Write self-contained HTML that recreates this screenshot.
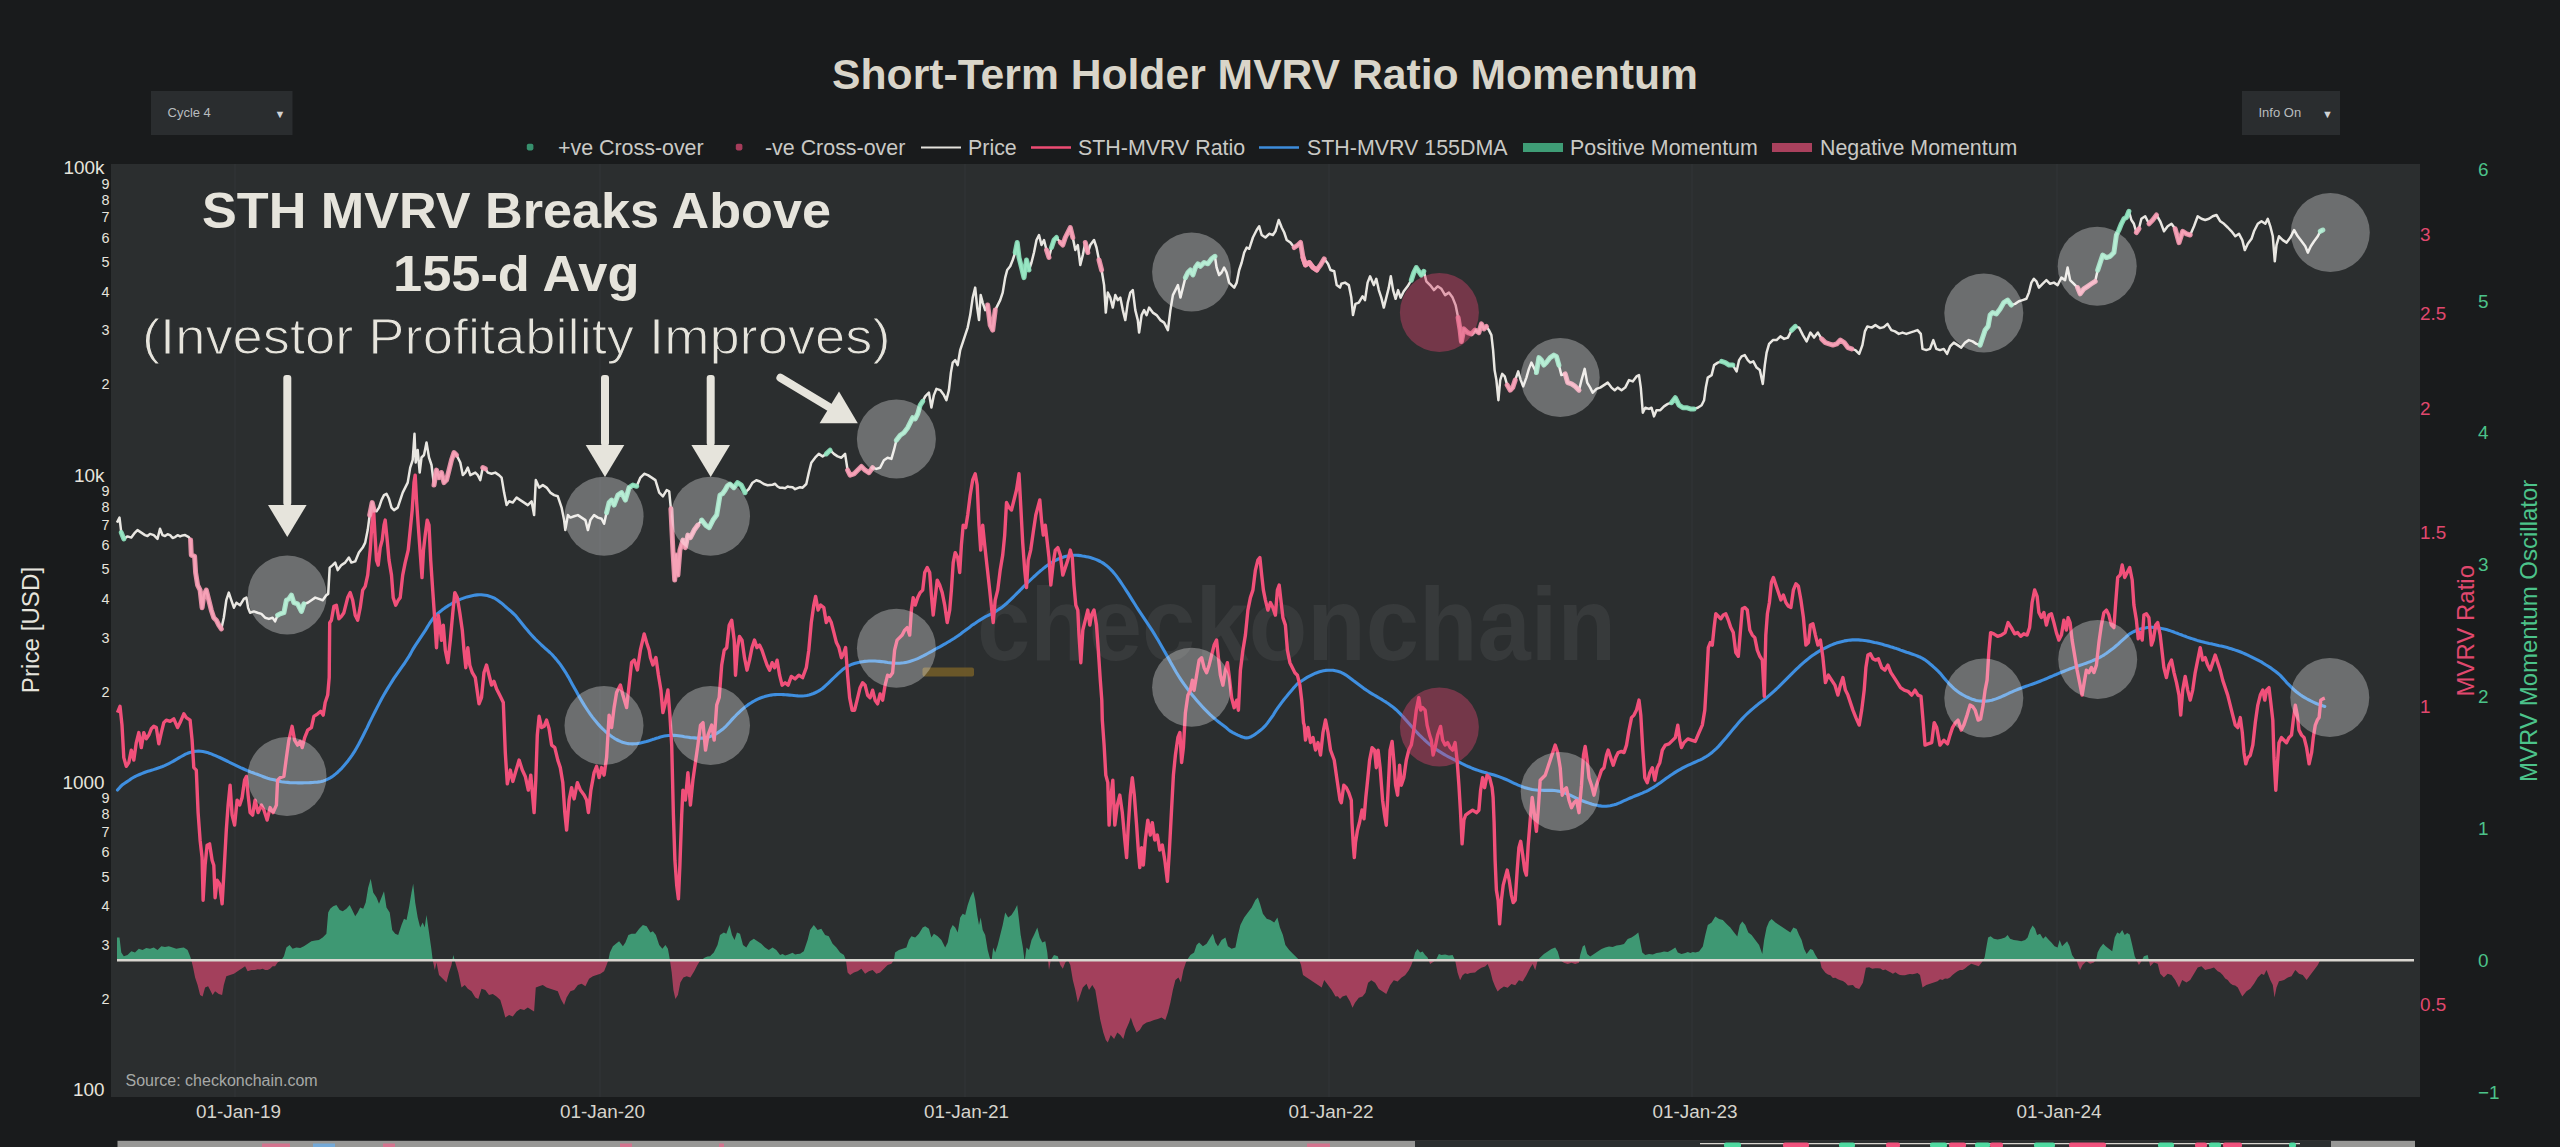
<!DOCTYPE html>
<html><head><meta charset="utf-8"><title>Short-Term Holder MVRV Ratio Momentum</title>
<style>
html,body{margin:0;padding:0;background:#191b1c;}
body{width:2560px;height:1147px;overflow:hidden;font-family:"Liberation Sans",sans-serif;}
svg{display:block}
text{font-family:"Liberation Sans",sans-serif}
.ann{font-family:"DejaVu Sans","Liberation Sans",sans-serif}
</style></head><body>
<svg width="2560" height="1147" viewBox="0 0 2560 1147">
<rect x="0" y="0" width="2560" height="1147" fill="#191b1c"/>
<rect x="111" y="164" width="2309" height="933" fill="#2b2e2f"/>

<line x1="235" y1="164" x2="235" y2="1097" stroke="#303335" stroke-width="1.6"/>
<line x1="600" y1="164" x2="600" y2="1097" stroke="#303335" stroke-width="1.6"/>
<line x1="965" y1="164" x2="965" y2="1097" stroke="#303335" stroke-width="1.6"/>
<line x1="1329" y1="164" x2="1329" y2="1097" stroke="#303335" stroke-width="1.6"/>
<line x1="1692" y1="164" x2="1692" y2="1097" stroke="#303335" stroke-width="1.6"/>
<line x1="2057" y1="164" x2="2057" y2="1097" stroke="#303335" stroke-width="1.6"/>
<text x="1265" y="89" text-anchor="middle" font-size="42.67" font-weight="bold" fill="#d9d5c9">Short-Term Holder MVRV Ratio Momentum</text>
<rect x="151" y="91" width="141.5" height="44" fill="#2a2d2f"/>
<text x="167.5" y="117" font-size="13" fill="#b8bcbf">Cycle 4</text>
<text x="280" y="117.5" font-size="11" text-anchor="middle" fill="#d0d3d5">▼</text>
<rect x="2242" y="91" width="98" height="44" fill="#2a2d2f"/>
<text x="2258.5" y="117" font-size="13" fill="#b8bcbf">Info On</text>
<text x="2327.5" y="117.5" font-size="11" text-anchor="middle" fill="#d0d3d5">▼</text>
<g font-size="21.4" fill="#c9c9c5">
<rect x="526.8" y="143.8" width="6.6" height="6.6" rx="1.8" fill="#37906d"/>
<text x="558" y="154.5">+ve Cross-over</text>
<rect x="735.8" y="143.8" width="6.6" height="6.6" rx="1.8" fill="#a53c5a"/>
<text x="765" y="154.5">-ve Cross-over</text>
<line x1="921" y1="147.5" x2="961" y2="147.5" stroke="#e4e2dc" stroke-width="2"/>
<text x="968" y="154.5">Price</text>
<line x1="1031" y1="147.5" x2="1071" y2="147.5" stroke="#ee4c73" stroke-width="2.5"/>
<text x="1078" y="154.5">STH-MVRV Ratio</text>
<line x1="1259" y1="147.5" x2="1299" y2="147.5" stroke="#3d8ddb" stroke-width="2.5"/>
<text x="1307" y="154.5">STH-MVRV 155DMA</text>
<rect x="1523" y="143" width="40" height="9" fill="#3f9d76"/>
<text x="1570" y="154.5">Positive Momentum</text>
<rect x="1772" y="143" width="40" height="9" fill="#a9415d"/>
<text x="1820" y="154.5">Negative Momentum</text>
</g>
<g fill="#e6e4dc" text-anchor="end">
<text x="104.5" y="174.4" font-size="18.9">100k</text>
<text x="104.5" y="481.6" font-size="18.9">10k</text>
<text x="104.5" y="788.8" font-size="18.9">1000</text>
<text x="104.5" y="1096.0" font-size="18.9">100</text>
<text x="109.5" y="1003.8" font-size="14.4">2</text>
<text x="109.5" y="949.7" font-size="14.4">3</text>
<text x="109.5" y="911.3" font-size="14.4">4</text>
<text x="109.5" y="881.6" font-size="14.4">5</text>
<text x="109.5" y="857.3" font-size="14.4">6</text>
<text x="109.5" y="836.7" font-size="14.4">7</text>
<text x="109.5" y="818.9" font-size="14.4">8</text>
<text x="109.5" y="803.2" font-size="14.4">9</text>
<text x="109.5" y="696.6" font-size="14.4">2</text>
<text x="109.5" y="642.5" font-size="14.4">3</text>
<text x="109.5" y="604.1" font-size="14.4">4</text>
<text x="109.5" y="574.4" font-size="14.4">5</text>
<text x="109.5" y="550.1" font-size="14.4">6</text>
<text x="109.5" y="529.5" font-size="14.4">7</text>
<text x="109.5" y="511.7" font-size="14.4">8</text>
<text x="109.5" y="496.0" font-size="14.4">9</text>
<text x="109.5" y="389.4" font-size="14.4">2</text>
<text x="109.5" y="335.3" font-size="14.4">3</text>
<text x="109.5" y="296.9" font-size="14.4">4</text>
<text x="109.5" y="267.2" font-size="14.4">5</text>
<text x="109.5" y="242.9" font-size="14.4">6</text>
<text x="109.5" y="222.3" font-size="14.4">7</text>
<text x="109.5" y="204.5" font-size="14.4">8</text>
<text x="109.5" y="188.8" font-size="14.4">9</text>
</g>
<text transform="translate(39,630) rotate(-90)" text-anchor="middle" font-size="24.2" fill="#e6e4dc">Price [USD]</text>
<g fill="#e0486e" font-size="18.9">
<text x="2420" y="241.3">3</text>
<text x="2420" y="319.5">2.5</text>
<text x="2420" y="415.2">2</text>
<text x="2420" y="538.6">1.5</text>
<text x="2420" y="712.5">1</text>
<text x="2420" y="1011.3">0.5</text>
</g>
<text transform="translate(2474,630.8) rotate(-90)" text-anchor="middle" font-size="24" fill="#e0486e">MVRV Ratio</text>
<g fill="#4cc38a" font-size="18.9">
<text x="2478" y="175.6">6</text>
<text x="2478" y="307.5">5</text>
<text x="2478" y="439.4">4</text>
<text x="2478" y="571.3">3</text>
<text x="2478" y="703.2">2</text>
<text x="2478" y="835.1">1</text>
<text x="2478" y="967.0">0</text>
<text x="2478" y="1098.9">−1</text>
</g>
<text transform="translate(2536.5,630.8) rotate(-90)" text-anchor="middle" font-size="24" fill="#4cc38a">MVRV Momentum Oscillator</text>
<g fill="#d6d4cd" font-size="18.9" text-anchor="middle">
<text x="238.5" y="1118">01-Jan-19</text>
<text x="602.5" y="1118">01-Jan-20</text>
<text x="966.5" y="1118">01-Jan-21</text>
<text x="1331" y="1118">01-Jan-22</text>
<text x="1695" y="1118">01-Jan-23</text>
<text x="2059" y="1118">01-Jan-24</text>
</g>
<rect x="922.5" y="667.5" width="51.5" height="9" rx="2" fill="#7a6128" opacity="0.8"/>
<text x="977" y="660" font-size="104" font-weight="bold" fill="#373a3b" textLength="639" lengthAdjust="spacingAndGlyphs" >checkonchain</text>
<text x="125.5" y="1086" font-size="16" fill="#a7a9a7">Source: checkonchain.com</text>
<clipPath id="cpos"><rect x="111" y="164" width="2309" height="796.2"/></clipPath>
<clipPath id="cneg"><rect x="111" y="960.2" width="2309" height="136.79999999999995"/></clipPath>
<path d="M117.0,937.6L119.5,937.6L121.3,952.6L123.8,956.3L127.5,955.1L131.3,951.3L135.0,952.6L138.8,948.8L142.5,950.1L146.3,948.1L150.0,948.8L153.8,947.6L157.5,950.1L161.3,946.3L165.0,947.1L168.8,946.3L172.6,947.6L176.3,948.8L180.1,948.1L183.8,947.6L187.6,950.1L190.1,956.3L191.3,960.1L193.1,967.6L195.1,977.6L197.6,985.1L200.1,995.1L202.6,996.4L205.1,987.6L208.1,986.3L210.1,990.1L212.6,995.1L215.1,991.3L218.8,993.9L222.1,995.1L223.8,985.1L226.3,976.3L230.1,975.1L233.9,973.8L237.6,971.3L241.4,968.8L245.1,966.3L247.6,971.3L251.4,970.1L255.1,970.1L257.6,969.3L260.1,969.6L262.6,968.7L265.1,970.1L267.6,969.9L270.1,968.8L272.6,966.2L275.1,966.3L277.6,962.6L281.4,960.1L283.9,956.3L286.4,947.6L289.6,945.1L292.6,948.8L296.4,947.6L300.2,948.1L303.9,946.3L307.7,943.8L311.4,941.3L315.2,940.6L318.9,940.1L322.7,937.6L326.4,933.8L328.2,912.5L330.2,908.8L333.2,906.3L336.4,905.0L339.7,910.0L342.7,911.3L346.4,908.8L349.7,905.0L352.2,910.0L355.2,916.3L357.7,912.5L360.2,907.5L363.2,908.8L365.7,902.5L368.2,887.5L370.7,878.8L373.2,892.5L376.5,897.5L379.0,903.8L381.5,897.5L384.0,891.3L386.5,907.5L389.7,912.5L392.2,930.1L395.2,933.8L398.2,935.1L401.5,925.0L404.0,918.8L406.5,920.0L409.0,907.5L411.5,892.5L413.2,883.8L415.2,902.5L417.7,917.5L420.2,927.6L422.7,922.5L424.7,927.6L426.5,915.0L429.0,932.6L431.5,950.1L432.7,960.1L434.8,970.1L436.5,962.6L439.0,975.1L442.8,978.8L446.5,982.6L449.0,972.6L451.5,965.1L453.3,955.1L455.3,962.6L458.3,972.6L461.5,987.6L464.8,985.1L467.8,988.8L471.5,991.3L475.3,997.6L478.3,998.9L481.5,988.8L485.3,990.1L489.0,995.1L492.8,993.9L496.5,996.4L500.3,1000.1L503.3,1010.1L505.3,1017.6L509.1,1015.1L512.8,1016.4L516.6,1011.4L520.3,1008.9L524.1,1010.1L527.8,1007.6L531.6,1010.1L534.1,1011.4L535.8,987.6L539.1,986.3L542.8,985.1L546.6,987.6L550.3,988.8L554.1,990.1L557.8,991.3L560.8,998.9L564.1,1005.1L566.6,997.6L570.4,991.3L574.1,990.1L577.9,985.1L581.6,983.8L585.4,986.3L589.1,978.8L592.9,976.3L596.6,975.1L600.4,973.8L604.1,971.3L606.6,965.1L608.4,960.1L609.9,952.6L612.9,946.3L615.9,943.8L619.1,941.3L622.9,946.3L625.4,942.6L628.4,935.1L631.6,933.8L635.4,933.8L639.2,928.8L642.9,925.0L646.7,926.3L650.4,932.6L652.9,931.3L655.9,935.1L659.2,945.1L662.4,948.8L665.4,945.1L667.9,948.8L669.9,960.1L671.7,972.6L673.4,990.1L675.4,998.9L677.9,995.1L680.4,982.6L683.4,977.6L686.7,976.3L690.4,977.6L694.2,971.3L697.4,965.1L700.5,960.1L702.8,959.0L705.0,957.6L707.5,956.5L710.0,956.3L713.8,952.6L717.5,945.1L720.0,935.1L723.8,932.6L726.3,933.8L729.5,925.0L732.0,935.1L734.5,940.1L737.0,932.6L740.0,933.8L743.0,945.1L746.3,947.6L750.0,941.3L753.8,938.8L757.5,941.3L761.3,943.8L765.0,947.6L768.8,950.1L772.6,947.6L776.3,950.1L780.1,955.1L782.6,953.9L785.1,955.6L787.6,954.7L790.1,953.8L792.6,952.7L795.1,954.6L797.6,954.0L800.1,953.8L803.8,951.3L807.6,940.1L810.1,930.1L813.8,925.0L817.6,930.1L821.3,928.8L825.1,935.1L828.8,936.3L832.6,943.8L836.4,947.6L840.1,952.6L843.9,955.1L845.9,960.1L847.6,972.6L850.1,975.1L853.9,972.6L857.6,971.3L861.4,968.8L865.1,973.8L868.9,971.3L872.6,970.1L876.4,973.8L880.1,972.6L883.9,968.8L887.6,965.1L891.4,963.8L893.9,960.1L895.1,952.6L898.9,950.1L902.7,948.8L906.4,947.6L908.9,940.1L911.4,936.3L915.2,937.6L918.9,933.8L922.7,927.6L925.2,926.3L928.9,928.8L931.4,937.6L933.9,933.8L937.7,936.3L941.4,940.1L945.2,947.6L947.7,942.6L950.2,930.1L952.7,925.0L955.2,927.6L957.7,932.6L960.2,917.5L962.7,913.8L965.2,915.0L967.7,905.0L970.2,897.5L973.2,891.3L975.2,900.0L977.2,915.0L979.0,925.0L980.7,917.5L982.7,930.1L985.2,935.1L987.7,950.1L989.7,957.6L991.5,961.3L993.2,947.6L995.2,952.6L997.7,945.1L1000.2,935.1L1002.7,925.0L1005.2,912.5L1008.2,917.5L1011.5,915.0L1014.7,910.0L1017.2,905.0L1019.0,920.0L1020.7,935.1L1022.7,946.3L1024.7,961.3L1026.5,947.6L1029.0,950.1L1031.5,940.1L1034.0,935.1L1037.3,927.6L1039.8,937.6L1042.3,942.6L1045.3,941.3L1047.3,952.6L1049.0,970.1L1050.8,960.1L1054.0,955.1L1057.8,956.3L1060.3,965.1L1062.8,968.8L1065.3,962.6L1067.8,960.1L1070.3,965.1L1072.8,980.1L1075.3,990.1L1077.8,1002.6L1080.3,995.1L1082.8,987.6L1086.5,983.8L1089.0,990.1L1092.3,985.1L1095.3,990.1L1097.8,1005.1L1100.3,1020.1L1103.3,1032.6L1105.8,1040.1L1107.8,1042.6L1110.8,1035.1L1114.1,1038.9L1117.3,1032.6L1120.3,1035.1L1123.3,1038.9L1125.8,1030.1L1129.1,1022.6L1130.8,1017.6L1133.3,1025.1L1136.6,1032.6L1139.8,1030.1L1142.8,1025.1L1146.6,1022.6L1150.3,1021.4L1154.1,1020.1L1157.8,1018.9L1161.6,1017.6L1165.3,1020.1L1167.9,1012.6L1170.4,1002.6L1172.9,990.1L1175.4,980.1L1178.4,977.6L1180.9,982.6L1183.4,970.1L1185.9,962.6L1187.9,958.8L1190.4,955.1L1194.1,952.6L1196.6,945.1L1199.1,942.6L1202.9,946.3L1206.6,943.8L1210.4,937.6L1212.9,933.8L1215.4,942.6L1217.9,946.3L1221.6,940.1L1225.4,937.6L1227.9,946.3L1231.6,948.8L1235.4,947.6L1237.9,935.1L1240.4,925.0L1244.2,917.5L1247.9,912.5L1251.7,907.5L1255.4,900.0L1257.9,897.5L1260.4,905.0L1262.9,913.8L1266.7,918.8L1270.4,920.0L1274.2,922.5L1277.4,917.5L1279.9,927.6L1282.9,935.1L1285.4,945.1L1289.2,950.1L1292.9,953.8L1296.7,957.6L1299.2,960.1L1301.0,965.1L1303.0,975.1L1306.7,977.6L1310.5,980.1L1314.2,982.6L1318.0,985.1L1321.7,987.6L1324.2,980.1L1328.0,985.1L1331.7,990.1L1335.5,996.4L1337.8,996.3L1340.0,998.9L1342.5,996.4L1346.3,995.2L1350.0,1001.4L1352.5,1007.7L1355.0,1002.7L1358.8,997.7L1362.5,996.4L1365.5,992.7L1368.1,982.7L1371.3,980.2L1375.1,982.7L1378.8,988.9L1382.6,991.4L1386.3,993.9L1390.1,985.2L1393.8,980.2L1397.6,981.4L1401.3,977.7L1405.1,975.2L1408.8,970.2L1411.3,965.2L1413.1,960.2L1415.1,952.6L1417.6,948.9L1420.1,952.6L1422.6,951.4L1425.1,955.1L1427.6,957.6L1430.1,963.9L1433.9,961.4L1436.4,958.9L1438.9,953.9L1441.4,955.1L1445.1,954.6L1448.9,955.6L1452.6,955.1L1455.1,960.2L1457.6,972.7L1460.1,980.2L1462.6,975.2L1465.1,973.2L1467.6,973.9L1470.1,973.1L1472.6,972.7L1475.1,972.5L1477.6,970.2L1481.4,967.7L1485.1,966.4L1487.6,963.9L1490.1,970.2L1492.6,980.2L1495.1,986.4L1497.6,991.4L1500.2,988.9L1503.9,986.4L1507.7,987.7L1511.4,983.9L1515.2,985.2L1518.9,980.2L1522.7,981.4L1526.4,975.2L1530.2,967.7L1532.7,963.9L1535.2,970.2L1537.7,960.2L1540.2,957.6L1543.9,953.9L1547.7,951.4L1551.4,948.9L1555.2,947.6L1557.7,951.4L1560.2,960.2L1563.9,962.7L1567.7,963.9L1571.5,962.7L1575.2,963.9L1579.0,962.7L1580.2,955.1L1582.7,946.4L1584.7,945.1L1587.2,953.9L1590.2,956.4L1594.0,953.9L1597.7,951.4L1601.5,948.9L1605.2,947.6L1609.0,946.4L1612.7,947.1L1616.5,945.6L1620.2,945.1L1624.0,943.9L1627.7,938.9L1631.5,937.6L1635.3,935.1L1638.3,932.6L1640.3,942.6L1642.3,952.6L1645.3,955.1L1649.0,953.9L1652.8,954.6L1656.5,953.1L1660.3,952.6L1664.0,951.4L1667.8,952.1L1671.5,950.1L1675.3,947.6L1677.8,952.6L1681.5,953.9L1685.3,953.1L1687.8,951.9L1690.3,953.1L1692.8,952.0L1695.3,952.6L1699.0,951.4L1702.8,946.4L1705.3,935.1L1707.8,925.1L1711.6,922.6L1715.3,916.4L1719.1,918.9L1722.8,920.1L1726.6,923.9L1730.3,927.6L1734.1,932.6L1737.3,936.4L1739.8,925.1L1742.3,921.4L1745.3,925.1L1748.3,932.6L1751.6,935.1L1755.3,940.1L1759.1,945.1L1762.3,953.9L1764.1,940.1L1766.6,927.6L1769.1,921.4L1771.6,918.9L1775.4,922.6L1779.1,925.1L1782.9,927.6L1786.6,930.1L1790.4,932.6L1793.4,927.6L1796.6,928.9L1799.1,935.1L1801.6,940.1L1804.1,948.9L1806.6,953.9L1810.4,948.9L1812.9,950.1L1815.4,955.1L1817.9,958.9L1819.9,960.2L1821.6,967.7L1825.4,972.7L1827.9,974.4L1830.4,975.2L1832.9,977.9L1835.4,977.7L1837.9,979.2L1840.4,980.2L1842.9,981.1L1845.4,982.7L1847.9,985.5L1850.4,985.2L1852.9,985.0L1855.4,987.7L1859.2,988.9L1862.9,982.7L1865.9,967.7L1869.2,967.2L1872.3,968.8L1875.4,968.2L1877.9,968.2L1880.4,968.4L1882.9,970.2L1885.4,969.6L1887.9,970.9L1890.4,972.2L1892.9,973.8L1895.4,972.3L1897.9,973.9L1900.0,975.1L1902.5,975.2L1905.0,975.2L1907.5,974.6L1910.0,973.9L1912.5,974.2L1915.0,973.8L1917.5,973.1L1920.0,975.1L1922.5,987.6L1926.3,985.1L1930.0,983.8L1933.8,982.6L1937.5,981.3L1940.0,979.3L1942.5,980.1L1945.0,978.5L1947.5,978.8L1950.0,977.5L1952.5,975.1L1955.0,973.0L1957.5,971.3L1960.0,970.1L1962.5,970.1L1965.0,968.5L1967.6,966.3L1971.3,963.8L1975.1,965.1L1978.8,966.3L1982.6,961.3L1984.6,957.6L1986.3,947.6L1988.1,937.6L1990.6,936.3L1993.8,938.8L1997.6,939.6L2001.3,938.8L2005.1,937.6L2007.6,935.1L2010.1,938.8L2013.8,940.1L2017.6,940.6L2021.3,941.3L2025.1,940.1L2027.6,937.6L2030.1,930.1L2032.6,925.5L2035.1,928.8L2037.1,935.1L2040.1,933.8L2043.1,938.8L2045.6,936.3L2048.9,940.1L2051.4,942.6L2054.6,946.3L2057.6,947.6L2059.6,940.1L2062.1,946.3L2064.6,943.8L2067.1,941.3L2069.6,946.3L2072.1,955.1L2074.6,958.8L2076.4,960.1L2078.1,965.1L2080.1,970.1L2082.6,965.1L2086.4,961.3L2090.1,963.8L2093.9,962.6L2096.4,958.8L2097.6,952.6L2100.2,947.6L2103.2,943.8L2105.7,946.3L2108.9,948.8L2112.2,951.3L2114.7,937.6L2117.2,932.6L2119.7,933.8L2122.2,930.1L2124.7,935.1L2127.2,933.1L2129.7,934.6L2132.2,945.1L2134.7,956.3L2136.4,960.1L2138.9,965.1L2141.4,961.3L2143.9,956.3L2147.7,955.1L2150.2,966.3L2153.9,962.6L2157.7,963.8L2160.2,973.8L2163.9,977.6L2167.7,973.8L2171.5,975.1L2175.2,980.1L2179.0,987.6L2182.2,980.1L2186.5,982.6L2190.2,980.1L2194.0,973.8L2197.7,967.6L2201.5,966.3L2205.2,970.1L2207.7,969.3L2210.2,968.8L2214.0,967.6L2217.7,971.3L2220.2,972.6L2222.7,975.1L2225.2,978.5L2227.7,980.1L2230.2,983.2L2232.7,985.1L2235.2,985.5L2237.8,987.6L2240.1,992.2L2242.3,996.4L2246.5,991.3L2250.3,988.8L2254.0,983.8L2257.8,977.6L2261.5,973.8L2264.0,975.1L2266.5,970.1L2270.3,980.1L2272.8,985.1L2274.5,997.6L2276.5,987.6L2279.0,981.3L2281.5,980.8L2284.0,980.1L2287.8,977.6L2291.5,976.3L2295.3,970.1L2299.0,973.8L2302.8,975.1L2306.6,980.1L2310.3,975.1L2314.1,970.1L2317.8,965.1L2320.3,960.1L2320.3,960.2L117.0,960.2Z" fill="#3e9873" clip-path="url(#cpos)"/>
<path d="M117.0,937.6L119.5,937.6L121.3,952.6L123.8,956.3L127.5,955.1L131.3,951.3L135.0,952.6L138.8,948.8L142.5,950.1L146.3,948.1L150.0,948.8L153.8,947.6L157.5,950.1L161.3,946.3L165.0,947.1L168.8,946.3L172.6,947.6L176.3,948.8L180.1,948.1L183.8,947.6L187.6,950.1L190.1,956.3L191.3,960.1L193.1,967.6L195.1,977.6L197.6,985.1L200.1,995.1L202.6,996.4L205.1,987.6L208.1,986.3L210.1,990.1L212.6,995.1L215.1,991.3L218.8,993.9L222.1,995.1L223.8,985.1L226.3,976.3L230.1,975.1L233.9,973.8L237.6,971.3L241.4,968.8L245.1,966.3L247.6,971.3L251.4,970.1L255.1,970.1L257.6,969.3L260.1,969.6L262.6,968.7L265.1,970.1L267.6,969.9L270.1,968.8L272.6,966.2L275.1,966.3L277.6,962.6L281.4,960.1L283.9,956.3L286.4,947.6L289.6,945.1L292.6,948.8L296.4,947.6L300.2,948.1L303.9,946.3L307.7,943.8L311.4,941.3L315.2,940.6L318.9,940.1L322.7,937.6L326.4,933.8L328.2,912.5L330.2,908.8L333.2,906.3L336.4,905.0L339.7,910.0L342.7,911.3L346.4,908.8L349.7,905.0L352.2,910.0L355.2,916.3L357.7,912.5L360.2,907.5L363.2,908.8L365.7,902.5L368.2,887.5L370.7,878.8L373.2,892.5L376.5,897.5L379.0,903.8L381.5,897.5L384.0,891.3L386.5,907.5L389.7,912.5L392.2,930.1L395.2,933.8L398.2,935.1L401.5,925.0L404.0,918.8L406.5,920.0L409.0,907.5L411.5,892.5L413.2,883.8L415.2,902.5L417.7,917.5L420.2,927.6L422.7,922.5L424.7,927.6L426.5,915.0L429.0,932.6L431.5,950.1L432.7,960.1L434.8,970.1L436.5,962.6L439.0,975.1L442.8,978.8L446.5,982.6L449.0,972.6L451.5,965.1L453.3,955.1L455.3,962.6L458.3,972.6L461.5,987.6L464.8,985.1L467.8,988.8L471.5,991.3L475.3,997.6L478.3,998.9L481.5,988.8L485.3,990.1L489.0,995.1L492.8,993.9L496.5,996.4L500.3,1000.1L503.3,1010.1L505.3,1017.6L509.1,1015.1L512.8,1016.4L516.6,1011.4L520.3,1008.9L524.1,1010.1L527.8,1007.6L531.6,1010.1L534.1,1011.4L535.8,987.6L539.1,986.3L542.8,985.1L546.6,987.6L550.3,988.8L554.1,990.1L557.8,991.3L560.8,998.9L564.1,1005.1L566.6,997.6L570.4,991.3L574.1,990.1L577.9,985.1L581.6,983.8L585.4,986.3L589.1,978.8L592.9,976.3L596.6,975.1L600.4,973.8L604.1,971.3L606.6,965.1L608.4,960.1L609.9,952.6L612.9,946.3L615.9,943.8L619.1,941.3L622.9,946.3L625.4,942.6L628.4,935.1L631.6,933.8L635.4,933.8L639.2,928.8L642.9,925.0L646.7,926.3L650.4,932.6L652.9,931.3L655.9,935.1L659.2,945.1L662.4,948.8L665.4,945.1L667.9,948.8L669.9,960.1L671.7,972.6L673.4,990.1L675.4,998.9L677.9,995.1L680.4,982.6L683.4,977.6L686.7,976.3L690.4,977.6L694.2,971.3L697.4,965.1L700.5,960.1L702.8,959.0L705.0,957.6L707.5,956.5L710.0,956.3L713.8,952.6L717.5,945.1L720.0,935.1L723.8,932.6L726.3,933.8L729.5,925.0L732.0,935.1L734.5,940.1L737.0,932.6L740.0,933.8L743.0,945.1L746.3,947.6L750.0,941.3L753.8,938.8L757.5,941.3L761.3,943.8L765.0,947.6L768.8,950.1L772.6,947.6L776.3,950.1L780.1,955.1L782.6,953.9L785.1,955.6L787.6,954.7L790.1,953.8L792.6,952.7L795.1,954.6L797.6,954.0L800.1,953.8L803.8,951.3L807.6,940.1L810.1,930.1L813.8,925.0L817.6,930.1L821.3,928.8L825.1,935.1L828.8,936.3L832.6,943.8L836.4,947.6L840.1,952.6L843.9,955.1L845.9,960.1L847.6,972.6L850.1,975.1L853.9,972.6L857.6,971.3L861.4,968.8L865.1,973.8L868.9,971.3L872.6,970.1L876.4,973.8L880.1,972.6L883.9,968.8L887.6,965.1L891.4,963.8L893.9,960.1L895.1,952.6L898.9,950.1L902.7,948.8L906.4,947.6L908.9,940.1L911.4,936.3L915.2,937.6L918.9,933.8L922.7,927.6L925.2,926.3L928.9,928.8L931.4,937.6L933.9,933.8L937.7,936.3L941.4,940.1L945.2,947.6L947.7,942.6L950.2,930.1L952.7,925.0L955.2,927.6L957.7,932.6L960.2,917.5L962.7,913.8L965.2,915.0L967.7,905.0L970.2,897.5L973.2,891.3L975.2,900.0L977.2,915.0L979.0,925.0L980.7,917.5L982.7,930.1L985.2,935.1L987.7,950.1L989.7,957.6L991.5,961.3L993.2,947.6L995.2,952.6L997.7,945.1L1000.2,935.1L1002.7,925.0L1005.2,912.5L1008.2,917.5L1011.5,915.0L1014.7,910.0L1017.2,905.0L1019.0,920.0L1020.7,935.1L1022.7,946.3L1024.7,961.3L1026.5,947.6L1029.0,950.1L1031.5,940.1L1034.0,935.1L1037.3,927.6L1039.8,937.6L1042.3,942.6L1045.3,941.3L1047.3,952.6L1049.0,970.1L1050.8,960.1L1054.0,955.1L1057.8,956.3L1060.3,965.1L1062.8,968.8L1065.3,962.6L1067.8,960.1L1070.3,965.1L1072.8,980.1L1075.3,990.1L1077.8,1002.6L1080.3,995.1L1082.8,987.6L1086.5,983.8L1089.0,990.1L1092.3,985.1L1095.3,990.1L1097.8,1005.1L1100.3,1020.1L1103.3,1032.6L1105.8,1040.1L1107.8,1042.6L1110.8,1035.1L1114.1,1038.9L1117.3,1032.6L1120.3,1035.1L1123.3,1038.9L1125.8,1030.1L1129.1,1022.6L1130.8,1017.6L1133.3,1025.1L1136.6,1032.6L1139.8,1030.1L1142.8,1025.1L1146.6,1022.6L1150.3,1021.4L1154.1,1020.1L1157.8,1018.9L1161.6,1017.6L1165.3,1020.1L1167.9,1012.6L1170.4,1002.6L1172.9,990.1L1175.4,980.1L1178.4,977.6L1180.9,982.6L1183.4,970.1L1185.9,962.6L1187.9,958.8L1190.4,955.1L1194.1,952.6L1196.6,945.1L1199.1,942.6L1202.9,946.3L1206.6,943.8L1210.4,937.6L1212.9,933.8L1215.4,942.6L1217.9,946.3L1221.6,940.1L1225.4,937.6L1227.9,946.3L1231.6,948.8L1235.4,947.6L1237.9,935.1L1240.4,925.0L1244.2,917.5L1247.9,912.5L1251.7,907.5L1255.4,900.0L1257.9,897.5L1260.4,905.0L1262.9,913.8L1266.7,918.8L1270.4,920.0L1274.2,922.5L1277.4,917.5L1279.9,927.6L1282.9,935.1L1285.4,945.1L1289.2,950.1L1292.9,953.8L1296.7,957.6L1299.2,960.1L1301.0,965.1L1303.0,975.1L1306.7,977.6L1310.5,980.1L1314.2,982.6L1318.0,985.1L1321.7,987.6L1324.2,980.1L1328.0,985.1L1331.7,990.1L1335.5,996.4L1337.8,996.3L1340.0,998.9L1342.5,996.4L1346.3,995.2L1350.0,1001.4L1352.5,1007.7L1355.0,1002.7L1358.8,997.7L1362.5,996.4L1365.5,992.7L1368.1,982.7L1371.3,980.2L1375.1,982.7L1378.8,988.9L1382.6,991.4L1386.3,993.9L1390.1,985.2L1393.8,980.2L1397.6,981.4L1401.3,977.7L1405.1,975.2L1408.8,970.2L1411.3,965.2L1413.1,960.2L1415.1,952.6L1417.6,948.9L1420.1,952.6L1422.6,951.4L1425.1,955.1L1427.6,957.6L1430.1,963.9L1433.9,961.4L1436.4,958.9L1438.9,953.9L1441.4,955.1L1445.1,954.6L1448.9,955.6L1452.6,955.1L1455.1,960.2L1457.6,972.7L1460.1,980.2L1462.6,975.2L1465.1,973.2L1467.6,973.9L1470.1,973.1L1472.6,972.7L1475.1,972.5L1477.6,970.2L1481.4,967.7L1485.1,966.4L1487.6,963.9L1490.1,970.2L1492.6,980.2L1495.1,986.4L1497.6,991.4L1500.2,988.9L1503.9,986.4L1507.7,987.7L1511.4,983.9L1515.2,985.2L1518.9,980.2L1522.7,981.4L1526.4,975.2L1530.2,967.7L1532.7,963.9L1535.2,970.2L1537.7,960.2L1540.2,957.6L1543.9,953.9L1547.7,951.4L1551.4,948.9L1555.2,947.6L1557.7,951.4L1560.2,960.2L1563.9,962.7L1567.7,963.9L1571.5,962.7L1575.2,963.9L1579.0,962.7L1580.2,955.1L1582.7,946.4L1584.7,945.1L1587.2,953.9L1590.2,956.4L1594.0,953.9L1597.7,951.4L1601.5,948.9L1605.2,947.6L1609.0,946.4L1612.7,947.1L1616.5,945.6L1620.2,945.1L1624.0,943.9L1627.7,938.9L1631.5,937.6L1635.3,935.1L1638.3,932.6L1640.3,942.6L1642.3,952.6L1645.3,955.1L1649.0,953.9L1652.8,954.6L1656.5,953.1L1660.3,952.6L1664.0,951.4L1667.8,952.1L1671.5,950.1L1675.3,947.6L1677.8,952.6L1681.5,953.9L1685.3,953.1L1687.8,951.9L1690.3,953.1L1692.8,952.0L1695.3,952.6L1699.0,951.4L1702.8,946.4L1705.3,935.1L1707.8,925.1L1711.6,922.6L1715.3,916.4L1719.1,918.9L1722.8,920.1L1726.6,923.9L1730.3,927.6L1734.1,932.6L1737.3,936.4L1739.8,925.1L1742.3,921.4L1745.3,925.1L1748.3,932.6L1751.6,935.1L1755.3,940.1L1759.1,945.1L1762.3,953.9L1764.1,940.1L1766.6,927.6L1769.1,921.4L1771.6,918.9L1775.4,922.6L1779.1,925.1L1782.9,927.6L1786.6,930.1L1790.4,932.6L1793.4,927.6L1796.6,928.9L1799.1,935.1L1801.6,940.1L1804.1,948.9L1806.6,953.9L1810.4,948.9L1812.9,950.1L1815.4,955.1L1817.9,958.9L1819.9,960.2L1821.6,967.7L1825.4,972.7L1827.9,974.4L1830.4,975.2L1832.9,977.9L1835.4,977.7L1837.9,979.2L1840.4,980.2L1842.9,981.1L1845.4,982.7L1847.9,985.5L1850.4,985.2L1852.9,985.0L1855.4,987.7L1859.2,988.9L1862.9,982.7L1865.9,967.7L1869.2,967.2L1872.3,968.8L1875.4,968.2L1877.9,968.2L1880.4,968.4L1882.9,970.2L1885.4,969.6L1887.9,970.9L1890.4,972.2L1892.9,973.8L1895.4,972.3L1897.9,973.9L1900.0,975.1L1902.5,975.2L1905.0,975.2L1907.5,974.6L1910.0,973.9L1912.5,974.2L1915.0,973.8L1917.5,973.1L1920.0,975.1L1922.5,987.6L1926.3,985.1L1930.0,983.8L1933.8,982.6L1937.5,981.3L1940.0,979.3L1942.5,980.1L1945.0,978.5L1947.5,978.8L1950.0,977.5L1952.5,975.1L1955.0,973.0L1957.5,971.3L1960.0,970.1L1962.5,970.1L1965.0,968.5L1967.6,966.3L1971.3,963.8L1975.1,965.1L1978.8,966.3L1982.6,961.3L1984.6,957.6L1986.3,947.6L1988.1,937.6L1990.6,936.3L1993.8,938.8L1997.6,939.6L2001.3,938.8L2005.1,937.6L2007.6,935.1L2010.1,938.8L2013.8,940.1L2017.6,940.6L2021.3,941.3L2025.1,940.1L2027.6,937.6L2030.1,930.1L2032.6,925.5L2035.1,928.8L2037.1,935.1L2040.1,933.8L2043.1,938.8L2045.6,936.3L2048.9,940.1L2051.4,942.6L2054.6,946.3L2057.6,947.6L2059.6,940.1L2062.1,946.3L2064.6,943.8L2067.1,941.3L2069.6,946.3L2072.1,955.1L2074.6,958.8L2076.4,960.1L2078.1,965.1L2080.1,970.1L2082.6,965.1L2086.4,961.3L2090.1,963.8L2093.9,962.6L2096.4,958.8L2097.6,952.6L2100.2,947.6L2103.2,943.8L2105.7,946.3L2108.9,948.8L2112.2,951.3L2114.7,937.6L2117.2,932.6L2119.7,933.8L2122.2,930.1L2124.7,935.1L2127.2,933.1L2129.7,934.6L2132.2,945.1L2134.7,956.3L2136.4,960.1L2138.9,965.1L2141.4,961.3L2143.9,956.3L2147.7,955.1L2150.2,966.3L2153.9,962.6L2157.7,963.8L2160.2,973.8L2163.9,977.6L2167.7,973.8L2171.5,975.1L2175.2,980.1L2179.0,987.6L2182.2,980.1L2186.5,982.6L2190.2,980.1L2194.0,973.8L2197.7,967.6L2201.5,966.3L2205.2,970.1L2207.7,969.3L2210.2,968.8L2214.0,967.6L2217.7,971.3L2220.2,972.6L2222.7,975.1L2225.2,978.5L2227.7,980.1L2230.2,983.2L2232.7,985.1L2235.2,985.5L2237.8,987.6L2240.1,992.2L2242.3,996.4L2246.5,991.3L2250.3,988.8L2254.0,983.8L2257.8,977.6L2261.5,973.8L2264.0,975.1L2266.5,970.1L2270.3,980.1L2272.8,985.1L2274.5,997.6L2276.5,987.6L2279.0,981.3L2281.5,980.8L2284.0,980.1L2287.8,977.6L2291.5,976.3L2295.3,970.1L2299.0,973.8L2302.8,975.1L2306.6,980.1L2310.3,975.1L2314.1,970.1L2317.8,965.1L2320.3,960.1L2320.3,960.2L117.0,960.2Z" fill="#a3405c" clip-path="url(#cneg)"/>
<line x1="117" y1="960.2" x2="2414" y2="960.2" stroke="#d9d6d0" stroke-width="2.6"/>
<path d="M117.5,790.1L120.0,787.2L122.5,784.7L125.0,783.0L127.1,781.6L129.2,780.3L131.2,778.8L133.3,777.5L135.4,776.3L137.5,775.4L139.6,774.5L141.7,773.6L143.8,772.8L145.8,772.0L147.9,771.3L150.0,770.7L152.1,770.1L154.2,769.4L156.2,768.7L158.3,768.0L160.4,767.3L162.5,766.5L164.6,765.6L166.7,764.6L168.8,763.6L170.9,762.5L173.0,761.4L175.1,760.1L177.2,758.9L179.3,757.6L181.3,756.5L183.4,755.3L185.5,754.2L187.6,753.3L189.8,752.5L191.9,751.9L194.1,751.4L196.3,751.2L198.5,751.1L200.7,751.2L202.9,751.5L205.1,751.9L207.2,752.4L209.3,753.2L211.3,753.9L213.4,754.8L215.5,755.7L217.6,756.6L219.7,757.5L221.8,758.5L223.8,759.5L225.9,760.5L228.0,761.5L230.1,762.6L232.2,763.6L234.3,764.6L236.3,765.6L238.4,766.6L240.5,767.6L242.6,768.5L244.7,769.5L246.8,770.4L248.8,771.2L250.9,772.1L253.0,772.8L255.1,773.6L257.2,774.3L259.3,775.1L261.4,775.9L263.4,776.7L265.5,777.5L267.6,778.2L270.1,778.9L272.6,779.5L275.1,780.1L277.2,780.7L279.3,781.2L281.4,781.7L283.4,782.0L285.5,782.3L287.6,782.4L289.7,782.6L291.8,782.7L293.9,782.8L296.0,782.8L298.1,782.9L300.2,782.9L302.3,782.9L304.4,782.8L306.4,782.8L308.5,782.7L310.6,782.6L312.7,782.5L314.8,782.3L317.0,782.2L319.1,781.9L321.3,781.5L323.4,780.9L325.6,780.1L327.7,779.2L329.7,778.2L331.7,776.9L333.7,775.5L335.7,773.9L337.7,772.2L339.8,770.2L341.9,768.1L343.9,765.8L346.0,763.3L348.1,760.7L350.2,757.8L352.3,754.8L354.4,751.6L356.4,748.2L358.5,744.5L360.6,740.6L362.7,736.5L364.8,732.3L366.9,728.1L368.9,723.8L371.0,719.6L373.1,715.4L375.2,711.2L377.3,707.1L379.4,703.1L381.4,699.2L383.5,695.5L385.6,691.9L387.7,688.4L389.8,685.0L391.9,681.7L393.9,678.4L396.0,675.3L398.1,672.3L400.2,669.3L402.3,666.4L404.4,663.5L406.4,660.4L408.5,657.2L410.6,653.6L412.7,649.6L415.2,645.7L417.7,641.9L420.2,638.1L422.7,634.4L425.2,630.7L427.3,627.1L429.4,623.7L431.5,620.6L433.6,617.7L435.7,615.3L437.8,613.5L439.9,611.8L442.0,610.1L444.1,608.6L446.1,607.1L448.2,605.7L450.3,604.5L452.4,603.2L454.5,602.1L456.6,601.0L458.6,600.0L460.7,599.1L462.8,598.4L464.9,597.6L467.0,596.9L469.1,596.4L471.1,595.9L473.2,595.5L475.3,595.1L477.3,594.9L479.3,594.8L481.3,594.8L483.3,595.0L485.3,595.2L487.3,595.6L489.3,596.2L491.3,596.9L493.3,597.7L495.3,598.7L497.3,600.0L499.3,601.4L501.3,602.9L503.3,604.6L505.3,606.5L507.8,608.6L510.3,610.7L512.8,613.0L515.3,615.3L517.3,617.7L519.3,620.2L521.3,622.7L523.3,625.2L525.3,627.7L527.3,630.1L529.3,632.5L531.3,634.7L533.3,636.9L535.3,639.0L537.4,641.0L539.5,643.0L541.5,645.0L543.6,646.9L545.7,648.8L547.8,650.6L549.9,652.5L552.0,654.5L554.0,656.8L556.1,659.1L558.2,661.7L560.3,664.4L562.3,667.3L564.3,670.4L566.4,673.7L568.4,677.1L570.4,680.7L572.4,684.4L574.4,688.0L576.4,691.6L578.4,695.2L580.4,698.7L582.4,702.1L584.4,705.4L586.4,708.5L588.4,711.5L590.4,714.4L592.4,717.1L594.4,719.6L596.4,722.0L598.4,724.4L600.4,726.6L602.4,728.6L604.4,730.5L606.4,732.4L608.4,734.1L610.4,735.6L612.4,737.0L614.4,738.3L616.4,739.5L618.4,740.5L620.4,741.4L622.4,742.2L624.4,742.8L626.4,743.3L628.4,743.6L630.4,743.8L632.4,743.9L634.4,743.8L636.4,743.7L638.4,743.4L640.4,743.0L642.4,742.5L644.4,742.0L646.4,741.5L648.4,740.9L650.4,740.3L652.4,739.6L654.4,739.0L656.4,738.3L658.4,737.7L660.4,737.0L662.4,736.5L664.4,736.1L666.4,735.7L668.4,735.5L670.4,735.4L672.4,735.3L674.4,735.4L676.4,735.5L678.4,735.7L680.4,736.0L682.4,736.3L684.4,736.7L686.4,737.0L688.4,737.3L690.4,737.6L692.4,737.8L694.4,737.9L696.5,738.1L698.5,738.1L700.5,738.1L702.5,738.1L704.5,738.0L706.5,737.7L708.5,737.1L710.5,736.4L713.0,735.4L715.5,734.1L717.9,732.7L720.2,731.1L722.6,729.3L725.0,727.2L727.1,725.0L729.2,722.7L731.2,720.4L733.3,718.1L735.4,716.0L737.5,713.8L739.6,711.8L741.7,709.9L743.8,708.1L745.8,706.4L747.9,704.9L750.0,703.5L752.1,702.2L754.2,701.0L756.2,699.9L758.3,698.9L760.4,698.0L762.5,697.3L764.6,696.6L766.7,696.0L768.8,695.5L770.9,695.1L773.0,694.8L775.1,694.6L777.2,694.5L779.3,694.5L781.4,694.5L783.4,694.6L785.5,694.7L787.6,694.9L789.7,695.1L791.8,695.3L793.9,695.5L795.9,695.7L798.0,695.9L800.1,696.0L802.3,696.0L804.6,695.8L806.8,695.5L809.1,695.0L811.3,694.3L813.5,693.5L815.7,692.5L817.9,691.4L820.1,690.1L822.1,688.7L824.1,687.0L826.1,685.2L828.1,683.3L830.1,681.3L832.1,679.4L834.1,677.5L836.1,675.6L838.1,673.7L840.1,671.9L842.1,670.1L844.1,668.6L846.1,667.2L848.1,666.0L850.1,665.1L852.2,664.2L854.3,663.5L856.4,662.9L858.4,662.4L860.5,662.0L862.6,661.7L864.7,661.4L866.8,661.2L868.9,661.0L870.9,661.0L873.0,661.0L875.1,661.0L877.2,661.2L879.3,661.4L881.4,661.6L883.4,661.8L885.5,662.1L887.6,662.5L889.6,662.7L891.6,663.0L893.6,663.1L895.6,663.2L897.6,663.2L899.6,663.2L901.6,663.0L903.7,662.8L905.7,662.4L907.7,662.0L909.7,661.4L911.7,660.8L913.7,660.1L915.7,659.4L917.7,658.6L919.7,657.7L921.7,656.7L923.7,655.7L925.7,654.6L927.7,653.5L929.7,652.4L931.7,651.3L933.7,650.2L935.7,649.0L937.7,647.9L939.8,646.8L941.9,645.6L944.0,644.4L946.0,643.3L948.1,642.0L950.2,640.8L952.3,639.5L954.4,638.2L956.5,636.8L958.5,635.4L960.6,633.9L962.7,632.3L964.8,630.8L966.9,629.2L969.0,627.7L971.0,626.1L973.1,624.6L975.2,623.2L977.3,621.7L979.4,620.4L981.5,619.1L983.5,617.9L985.6,616.7L987.7,615.7L989.8,614.6L991.9,613.5L994.0,612.4L996.0,611.1L998.1,609.8L1000.2,608.4L1002.3,606.9L1004.4,605.3L1006.5,603.5L1008.5,601.7L1010.6,599.7L1012.7,597.6L1014.8,595.5L1016.9,593.4L1019.0,591.4L1021.0,589.3L1023.1,587.2L1025.2,585.1L1027.3,583.0L1029.4,581.0L1031.5,579.0L1033.6,577.0L1035.7,575.1L1037.8,573.2L1039.9,571.3L1042.0,569.6L1044.0,567.9L1046.1,566.3L1048.2,564.9L1050.3,563.5L1052.3,562.2L1054.3,561.1L1056.3,560.0L1058.3,559.0L1060.3,558.1L1062.3,557.4L1064.3,556.8L1066.3,556.3L1068.3,555.9L1070.3,555.6L1072.3,555.4L1074.3,555.3L1076.3,555.3L1078.3,555.4L1080.3,555.6L1082.3,556.0L1084.3,556.3L1086.3,556.7L1088.3,557.1L1090.3,557.6L1092.3,558.2L1094.3,558.9L1096.3,559.6L1098.3,560.5L1100.3,561.5L1102.3,562.6L1104.3,563.9L1106.3,565.4L1108.3,567.1L1110.3,569.0L1112.3,571.1L1114.3,573.4L1116.3,575.9L1118.3,578.6L1120.3,581.5L1122.3,584.5L1124.3,587.5L1126.3,590.6L1128.3,593.7L1130.3,596.9L1132.3,600.1L1134.3,603.3L1136.3,606.5L1138.3,609.6L1140.3,612.6L1142.3,615.6L1144.3,618.6L1146.3,621.6L1148.3,624.6L1150.3,627.6L1152.3,630.7L1154.3,633.9L1156.3,637.2L1158.3,640.5L1160.3,644.0L1162.3,647.5L1164.3,651.1L1166.4,654.7L1168.4,658.3L1170.4,662.0L1172.4,665.6L1174.4,669.1L1176.4,672.5L1178.4,675.7L1180.4,678.8L1182.4,681.8L1184.4,684.7L1186.4,687.4L1188.4,690.1L1190.4,692.7L1192.4,695.2L1194.4,697.6L1196.4,699.9L1198.4,702.2L1200.4,704.5L1202.4,706.7L1204.4,708.9L1206.4,710.9L1208.4,712.9L1210.4,714.9L1212.4,716.7L1214.4,718.4L1216.4,720.1L1218.4,721.7L1220.4,723.3L1222.4,724.8L1224.4,726.3L1226.4,727.8L1228.4,729.6L1230.4,731.2L1232.9,732.6L1235.4,733.9L1237.9,735.1L1240.4,736.2L1242.4,737.0L1244.4,737.6L1246.4,737.9L1248.4,737.7L1250.4,737.1L1252.9,735.7L1255.4,734.1L1257.9,732.3L1260.4,730.3L1262.9,728.1L1265.4,725.6L1267.4,723.1L1269.4,720.4L1271.4,717.6L1273.4,714.8L1275.4,711.4L1277.6,708.2L1279.8,705.1L1282.0,702.1L1284.2,699.2L1286.7,696.3L1288.9,693.6L1291.1,690.9L1293.2,688.4L1295.4,686.0L1297.4,683.8L1299.4,682.4L1301.5,681.0L1303.5,679.7L1305.5,678.4L1307.5,677.2L1309.5,676.1L1311.5,675.1L1313.5,674.1L1315.5,673.2L1317.5,672.5L1319.5,671.8L1321.5,671.2L1323.5,670.8L1325.5,670.4L1328.0,670.2L1330.5,670.2L1333.0,670.3L1335.3,670.7L1337.7,671.2L1340.0,671.9L1342.0,672.8L1344.0,673.9L1346.0,675.1L1348.0,676.5L1350.0,678.0L1352.0,679.5L1354.0,681.1L1356.0,682.6L1358.0,684.1L1360.0,685.6L1362.0,687.1L1364.0,688.6L1366.1,689.9L1368.1,691.3L1370.1,692.6L1372.1,693.8L1374.1,695.0L1376.1,696.2L1378.1,697.4L1380.1,698.5L1382.1,699.7L1384.1,701.0L1386.1,702.2L1388.1,703.5L1390.1,704.9L1392.1,706.4L1394.1,708.0L1396.1,709.7L1398.1,711.6L1400.1,713.6L1402.1,715.8L1404.1,717.9L1406.1,720.2L1408.1,722.5L1410.1,724.8L1412.1,727.1L1414.1,729.3L1416.1,731.5L1418.1,733.6L1420.1,735.7L1422.1,737.6L1424.1,739.5L1426.1,741.3L1428.1,743.1L1430.1,744.8L1432.1,746.3L1434.1,747.8L1436.1,749.3L1438.1,750.6L1440.1,751.9L1442.1,753.1L1444.1,754.3L1446.1,755.5L1448.1,756.6L1450.1,757.6L1452.1,758.6L1454.1,759.6L1456.1,760.7L1458.1,761.7L1460.1,762.7L1462.1,763.7L1464.1,764.6L1466.1,765.6L1468.1,766.5L1470.1,767.3L1472.1,768.2L1474.1,769.0L1476.1,769.7L1478.1,770.4L1480.1,771.1L1482.1,771.7L1484.1,772.3L1486.1,772.8L1488.1,773.4L1490.1,773.9L1492.1,774.4L1494.1,775.0L1496.2,775.7L1498.2,776.4L1500.2,777.1L1502.2,777.9L1504.2,778.7L1506.2,779.5L1508.2,780.4L1510.2,781.4L1512.2,782.4L1514.2,783.3L1516.2,784.2L1518.2,785.1L1520.2,785.9L1522.2,786.7L1524.2,787.4L1526.2,788.0L1528.2,788.6L1530.2,789.1L1532.2,789.5L1534.2,789.8L1536.2,790.0L1538.2,790.2L1540.2,790.3L1542.2,790.3L1544.2,790.4L1546.2,790.4L1548.2,790.4L1550.2,790.3L1552.2,790.4L1554.2,790.5L1556.2,790.8L1558.2,791.1L1560.2,791.6L1562.2,792.1L1564.2,792.7L1566.2,793.5L1568.2,794.3L1570.2,795.2L1572.2,796.2L1574.2,797.1L1576.2,798.1L1578.2,799.0L1580.2,799.8L1582.2,800.7L1584.2,801.5L1586.2,802.2L1588.2,802.9L1590.2,803.6L1592.2,804.2L1594.2,804.7L1596.2,805.1L1598.2,805.6L1600.2,805.9L1602.2,806.2L1604.2,806.2L1606.2,806.2L1608.2,806.0L1610.2,805.8L1612.2,805.3L1614.2,804.8L1616.2,804.2L1618.2,803.4L1620.2,802.6L1622.2,801.6L1624.2,800.7L1626.2,799.8L1628.2,798.9L1630.2,798.0L1632.2,797.2L1634.2,796.3L1636.3,795.5L1638.3,794.7L1640.3,793.9L1642.3,793.1L1644.3,792.2L1646.3,791.3L1648.3,790.3L1650.3,789.2L1652.3,788.0L1654.3,786.8L1656.3,785.5L1658.3,784.1L1660.3,782.7L1662.3,781.2L1664.3,779.8L1666.3,778.3L1668.3,776.9L1670.3,775.5L1672.3,774.2L1674.3,772.9L1676.3,771.6L1678.3,770.4L1680.3,769.3L1682.3,768.2L1684.3,767.1L1686.3,766.1L1688.3,765.2L1690.3,764.3L1692.3,763.4L1694.3,762.5L1696.3,761.6L1698.3,760.7L1700.3,759.8L1702.3,758.8L1704.3,757.7L1706.3,756.5L1708.3,755.2L1710.3,753.8L1712.3,752.2L1714.3,750.4L1716.3,748.6L1718.3,746.6L1720.3,744.4L1722.3,742.1L1724.3,739.8L1726.3,737.5L1728.3,735.1L1730.3,732.6L1732.3,730.1L1734.3,727.7L1736.3,725.4L1738.3,723.1L1740.3,720.8L1742.3,718.6L1744.3,716.5L1746.3,714.5L1748.3,712.6L1750.3,710.8L1752.3,709.1L1754.3,707.4L1756.3,705.7L1758.3,704.1L1760.3,702.6L1762.3,701.1L1764.3,699.5L1766.4,697.8L1768.4,696.1L1770.4,694.4L1772.4,692.6L1774.4,690.8L1776.4,689.0L1778.4,687.1L1780.4,685.1L1782.4,683.1L1784.4,681.1L1786.4,679.1L1788.4,677.1L1790.4,675.1L1792.4,673.1L1794.4,671.2L1796.4,669.2L1798.4,667.3L1800.4,665.4L1802.4,663.6L1804.4,661.9L1806.4,660.2L1808.4,658.6L1810.4,657.0L1812.4,655.6L1814.4,654.2L1816.4,652.9L1818.4,651.6L1820.4,650.4L1822.4,649.3L1824.4,648.3L1826.4,647.3L1828.4,646.3L1830.4,645.4L1832.4,644.6L1834.4,643.8L1836.4,643.1L1838.4,642.5L1840.4,641.9L1842.4,641.4L1844.4,640.9L1846.4,640.6L1848.4,640.3L1850.4,640.1L1852.4,639.9L1854.4,639.9L1856.4,639.9L1858.4,639.9L1860.4,640.1L1862.4,640.3L1864.4,640.5L1866.4,640.8L1868.4,641.1L1870.4,641.5L1872.4,641.9L1874.4,642.4L1876.4,642.8L1878.4,643.3L1880.4,643.8L1882.4,644.3L1884.4,644.9L1886.4,645.4L1888.4,646.0L1890.4,646.7L1892.4,647.3L1894.4,648.0L1896.5,648.6L1898.5,649.3L1900.5,650.1L1902.5,650.8L1904.5,651.5L1906.5,652.2L1908.5,652.8L1910.5,653.5L1912.5,654.2L1914.5,654.9L1916.5,655.6L1918.5,656.5L1920.5,657.3L1922.5,658.4L1924.5,659.6L1926.5,661.0L1928.5,662.5L1930.5,664.3L1932.9,666.3L1935.2,668.4L1937.6,670.7L1940.0,673.1L1942.0,675.5L1944.0,677.9L1946.0,680.3L1948.0,682.5L1950.0,684.7L1952.0,686.7L1954.0,688.6L1956.0,690.3L1958.0,691.8L1960.0,693.2L1962.0,694.4L1964.0,695.5L1966.1,696.6L1968.1,697.5L1970.1,698.4L1972.1,699.2L1974.1,699.8L1976.1,700.4L1978.1,700.8L1980.1,701.0L1982.6,701.1L1985.1,701.1L1987.6,700.9L1989.7,700.6L1991.8,700.2L1993.8,699.6L1995.9,698.9L1998.0,698.1L2000.1,697.3L2002.1,696.4L2004.1,695.5L2006.1,694.6L2008.1,693.7L2010.1,692.7L2012.1,691.8L2014.1,690.9L2016.1,690.1L2018.1,689.3L2020.1,688.5L2022.1,687.8L2024.1,687.0L2026.1,686.3L2028.1,685.6L2030.1,684.9L2032.1,684.2L2034.1,683.5L2036.1,682.8L2038.1,682.0L2040.1,681.2L2042.1,680.4L2044.1,679.6L2046.1,678.8L2048.1,677.9L2050.1,677.0L2052.1,676.2L2054.1,675.3L2056.1,674.5L2058.1,673.6L2060.1,672.8L2062.1,672.0L2064.1,671.2L2066.1,670.4L2068.1,669.6L2070.1,668.8L2072.1,668.1L2074.1,667.4L2076.1,666.7L2078.1,666.0L2080.1,665.3L2082.1,664.6L2084.1,663.9L2086.1,663.2L2088.1,662.4L2090.1,661.7L2092.1,660.9L2094.1,660.0L2096.2,659.1L2098.2,658.1L2100.2,657.1L2102.2,656.0L2104.2,654.8L2106.2,653.5L2108.2,652.1L2110.2,650.6L2112.2,649.1L2114.2,647.5L2116.2,645.8L2118.2,644.1L2120.2,642.2L2122.2,640.4L2124.2,638.6L2126.2,636.8L2128.2,635.1L2130.2,633.6L2132.7,632.2L2135.2,631.0L2137.7,629.9L2140.2,629.1L2142.7,628.4L2145.2,627.9L2147.3,627.5L2149.4,627.3L2151.4,627.3L2153.5,627.4L2155.6,627.6L2157.7,627.9L2160.2,628.3L2162.7,628.7L2165.2,629.2L2167.2,629.8L2169.2,630.4L2171.2,631.1L2173.2,631.8L2175.2,632.6L2177.2,633.3L2179.2,634.1L2181.2,634.8L2183.2,635.6L2185.2,636.3L2187.2,637.1L2189.2,637.8L2191.2,638.4L2193.2,639.1L2195.2,639.7L2197.2,640.4L2199.2,640.9L2201.2,641.5L2203.2,642.0L2205.2,642.5L2207.2,642.9L2209.2,643.4L2211.2,643.8L2213.2,644.3L2215.2,644.7L2217.2,645.2L2219.2,645.7L2221.2,646.1L2223.2,646.6L2225.2,647.1L2227.2,647.6L2229.2,648.2L2231.3,648.8L2233.3,649.4L2235.3,650.1L2237.3,650.8L2239.3,651.5L2241.3,652.3L2243.3,653.1L2245.3,654.0L2247.3,654.9L2249.3,655.9L2251.3,656.8L2253.3,657.8L2255.3,658.8L2257.3,659.8L2259.3,660.9L2261.3,661.9L2263.3,663.2L2265.3,664.5L2267.8,666.0L2270.3,667.6L2272.8,669.4L2275.3,671.2L2277.8,673.3L2280.3,675.4L2282.3,677.6L2284.3,679.8L2286.3,682.1L2288.3,684.2L2290.3,686.2L2292.3,688.2L2294.3,690.0L2296.3,691.7L2298.3,693.3L2300.3,694.8L2302.3,696.1L2304.3,697.3L2306.3,698.5L2308.3,699.6L2310.3,700.7L2312.3,701.7L2314.3,702.6L2316.3,703.5L2318.3,704.3L2320.3,705.0L2322.6,705.8L2324.8,706.4" fill="none" stroke="#3f8fe0" stroke-width="3.1" stroke-linejoin="round" stroke-linecap="round"/>
<path d="M117.5,712.6L120.0,706.3L122.0,725.1L123.8,757.6L126.3,766.3L128.8,762.6L131.3,750.1L133.8,760.1L136.3,742.6L138.8,732.6L141.3,747.6L143.8,732.6L146.3,738.8L148.8,735.1L151.3,728.8L153.8,726.3L156.3,727.6L158.8,743.8L161.3,732.6L163.8,722.6L166.3,720.1L170.1,721.3L173.8,718.8L177.6,727.6L180.1,722.6L183.8,713.8L186.3,717.6L190.1,720.1L192.1,740.1L193.8,767.6L196.3,770.1L198.1,812.6L200.1,840.2L202.1,857.7L203.1,900.2L205.1,865.2L207.1,845.2L209.6,843.9L212.1,860.2L213.8,865.2L215.1,897.7L217.1,880.2L219.6,883.9L222.1,903.9L223.8,875.2L226.3,830.1L228.1,805.1L230.1,785.1L232.1,815.1L234.6,825.1L237.1,800.1L239.6,805.1L242.1,797.6L244.6,780.1L246.4,776.4L248.1,795.1L250.1,812.6L252.6,815.1L255.1,800.1L258.1,812.6L261.4,805.1L263.9,810.1L267.1,820.1L270.1,807.6L273.1,812.6L276.4,805.1L277.6,780.1L280.1,777.6L283.9,776.4L286.4,757.6L288.9,740.1L292.1,726.3L294.6,740.1L297.6,745.1L300.2,741.3L302.2,747.6L304.7,737.6L307.7,730.1L311.4,727.6L313.9,716.3L317.7,713.8L320.7,711.3L323.2,715.1L325.2,702.5L327.7,695.0L329.2,677.5L329.7,622.7L331.4,620.2L333.9,606.4L336.4,605.2L338.9,618.9L341.4,616.4L343.9,612.7L347.7,597.6L350.2,592.6L352.7,600.2L355.2,615.2L357.7,620.2L360.2,607.7L362.7,590.1L365.2,586.4L367.7,575.1L370.2,550.1L372.2,520.1L373.5,507.6L374.7,530.1L376.5,560.1L378.2,565.1L380.2,547.6L382.2,540.1L384.0,525.1L385.2,520.1L387.2,540.1L389.0,560.1L391.5,575.1L393.2,597.6L395.7,605.2L398.2,600.2L400.2,597.6L402.7,575.1L405.2,562.6L408.2,550.1L410.2,530.1L412.2,510.1L414.0,482.6L415.2,475.1L416.5,500.1L418.2,525.1L420.2,552.6L422.0,577.6L423.5,550.1L425.2,535.1L427.2,520.1L429.0,525.1L430.7,560.1L432.7,590.1L434.8,620.2L436.5,647.7L438.3,615.2L439.8,625.2L441.5,640.2L443.3,625.2L445.3,650.2L447.8,662.7L450.3,640.2L452.8,612.7L454.8,592.6L457.3,597.6L459.8,612.7L462.3,630.2L464.0,650.2L465.8,667.7L467.8,647.7L469.8,665.2L472.3,672.7L475.3,677.7L479.0,703.8L481.5,697.5L484.0,672.5L486.5,665.0L489.0,675.0L491.5,685.0L494.0,681.3L496.5,688.8L500.3,696.3L503.3,702.5L505.3,752.6L507.3,783.9L510.3,770.1L512.8,781.4L515.8,771.3L519.1,760.1L522.3,770.1L525.3,776.4L528.3,790.1L530.8,775.1L534.1,812.6L535.8,780.1L537.3,735.1L539.1,716.3L541.6,727.6L544.1,726.3L546.6,720.1L549.1,728.8L551.6,745.1L554.8,747.6L557.8,760.1L560.3,767.6L562.8,782.6L564.8,812.6L566.6,830.1L569.1,800.1L571.6,787.6L574.1,798.9L577.4,782.6L580.4,790.1L584.1,795.1L586.6,800.1L588.4,812.6L590.9,790.1L594.1,772.6L596.6,766.3L599.1,777.6L601.6,767.6L604.1,775.1L606.6,757.6L609.1,715.1L611.6,727.6L614.1,707.6L616.6,692.5L620.4,685.0L622.9,695.0L626.6,707.6L629.1,685.0L631.6,662.5L634.2,660.0L637.4,670.0L640.4,650.0L644.2,633.9L646.7,642.7L649.2,650.2L650.4,657.5L652.9,665.0L655.9,657.5L658.4,675.0L660.9,690.0L662.9,712.6L665.4,702.5L667.9,690.0L669.9,715.1L671.7,745.1L673.4,815.1L674.9,860.2L676.7,885.2L678.4,898.9L679.9,865.2L681.7,815.1L682.9,790.1L685.4,800.1L687.9,772.6L690.4,805.1L692.9,780.1L695.4,762.6L697.9,745.1L700.5,725.1L703.0,722.6L705.5,750.1L708.0,735.1L711.7,725.1L714.2,740.1L716.7,705.0L719.2,697.5L721.7,665.0L724.2,650.2L726.7,647.7L729.2,625.2L731.7,620.2L734.2,640.2L735.5,675.2L737.5,647.6L739.5,636.4L742.0,640.1L744.5,657.7L747.0,670.2L749.5,660.2L752.0,647.6L754.5,640.1L757.0,647.6L759.5,645.1L762.0,650.2L764.5,657.7L767.1,665.2L769.6,670.2L772.1,662.7L774.6,667.7L777.1,660.2L779.6,675.2L782.1,685.2L785.1,682.7L788.1,685.2L791.3,676.4L795.1,678.9L798.8,675.2L802.6,677.7L806.3,667.7L808.8,650.2L811.3,622.6L813.8,605.1L815.6,596.4L818.1,610.1L820.6,605.1L823.8,607.6L826.3,622.6L828.8,617.6L831.3,622.6L833.9,632.6L836.4,642.6L838.9,647.6L841.4,657.7L843.9,652.7L845.6,647.6L847.6,675.2L849.6,697.7L852.1,710.2L854.6,710.2L857.1,700.2L860.1,687.7L862.6,682.7L865.1,685.2L867.6,695.2L870.1,697.7L872.6,690.2L875.1,700.2L877.6,703.9L880.1,693.9L882.6,700.2L885.1,685.2L887.6,675.2L890.1,676.4L892.6,672.7L894.6,650.2L897.1,640.1L899.6,637.6L902.2,635.1L904.7,630.1L907.2,627.6L909.7,635.1L911.4,610.1L913.2,597.6L915.2,605.1L917.7,597.6L920.2,592.6L922.7,590.1L924.7,572.6L927.2,567.6L929.7,572.6L931.4,595.1L933.2,615.1L935.2,597.6L937.2,580.1L939.7,585.1L942.2,592.6L944.7,605.1L947.2,622.6L949.7,610.1L951.4,590.1L953.2,562.6L955.2,552.6L957.7,557.6L959.7,572.6L961.4,545.1L963.2,525.1L965.7,527.6L967.7,515.0L970.2,495.0L972.7,480.0L975.2,473.8L977.2,485.0L979.0,525.1L980.7,550.1L982.7,525.1L984.7,545.1L987.2,567.6L989.7,590.1L991.5,607.6L993.2,622.6L995.2,600.1L997.7,590.1L1000.2,570.1L1002.7,555.1L1004.7,535.1L1006.5,502.5L1009.0,507.5L1011.5,510.0L1014.0,500.0L1016.5,490.0L1019.0,473.8L1020.7,505.0L1022.7,542.6L1024.7,570.1L1026.5,587.6L1028.2,560.1L1030.7,550.1L1033.2,532.6L1035.8,515.0L1037.8,507.5L1039.8,500.0L1041.5,520.1L1043.3,535.1L1045.3,525.1L1047.3,542.6L1049.0,557.6L1050.8,585.1L1053.3,562.6L1055.3,550.1L1057.8,547.6L1060.3,555.1L1062.8,575.1L1065.3,567.6L1067.8,560.1L1070.3,550.1L1072.3,557.6L1074.0,585.1L1075.8,605.1L1077.8,610.1L1079.0,635.1L1080.8,662.7L1082.8,630.1L1085.3,620.1L1087.8,610.1L1089.8,625.1L1091.5,615.1L1094.0,610.1L1096.5,625.1L1098.3,650.2L1100.3,680.2L1101.8,700.2L1102.3,720.0L1104.1,745.0L1105.8,775.1L1107.8,782.6L1109.1,825.1L1110.8,797.6L1112.8,780.1L1114.8,825.1L1117.3,805.1L1119.8,795.1L1122.3,812.6L1124.8,840.1L1126.6,857.6L1128.3,825.1L1130.3,795.1L1132.3,777.6L1134.3,795.1L1136.6,825.1L1138.3,850.1L1139.8,867.6L1141.6,847.6L1143.3,865.1L1145.3,840.1L1147.8,820.1L1150.3,835.1L1152.3,822.6L1154.8,840.1L1157.3,835.1L1159.8,850.1L1162.3,845.1L1164.8,860.1L1167.4,881.4L1169.4,850.1L1171.4,812.6L1173.4,775.1L1175.4,755.0L1177.9,737.5L1179.9,732.5L1181.6,762.5L1183.4,747.5L1185.4,712.7L1187.9,695.2L1190.4,690.2L1192.4,680.2L1194.1,690.2L1196.6,675.2L1199.1,660.2L1201.6,657.7L1204.1,667.7L1206.6,672.7L1209.1,665.2L1211.6,655.2L1214.1,645.1L1216.6,640.1L1218.4,657.7L1220.4,675.2L1222.9,685.2L1225.4,670.2L1227.4,662.7L1229.1,675.2L1231.6,697.7L1234.2,707.7L1236.7,700.2L1238.4,710.2L1240.4,670.2L1242.9,650.2L1245.4,635.1L1247.9,610.1L1250.4,597.6L1252.9,590.1L1255.4,570.1L1257.9,560.1L1259.9,557.6L1261.7,575.1L1263.4,590.1L1265.4,600.1L1267.9,610.1L1270.4,602.6L1272.9,607.6L1275.4,615.1L1277.4,590.1L1279.2,585.1L1280.9,600.1L1282.9,617.6L1285.4,625.1L1287.4,650.2L1289.9,662.7L1292.4,667.7L1294.9,672.7L1297.4,675.2L1299.9,685.2L1301.7,700.2L1303.5,722.7L1304.2,725.0L1305.5,740.0L1308.0,727.5L1310.5,742.5L1313.0,737.5L1315.5,750.0L1318.0,742.5L1320.5,755.0L1323.0,732.5L1325.5,720.0L1328.0,732.5L1330.5,750.0L1334.2,760.0L1336.7,777.6L1340.0,800.1L1341.3,802.7L1343.8,785.2L1346.3,787.7L1348.8,792.7L1351.3,800.2L1352.0,822.5L1353.3,845.1L1354.3,857.6L1355.5,842.6L1357.5,830.1L1359.5,822.5L1362.0,810.0L1364.0,818.8L1365.8,797.5L1367.1,785.2L1369.6,760.2L1372.1,747.6L1374.6,750.1L1376.3,767.7L1378.1,750.1L1380.1,767.7L1382.6,800.2L1384.6,815.2L1386.3,825.2L1388.1,790.2L1390.1,750.1L1392.1,741.4L1393.8,760.2L1395.6,785.2L1397.6,795.2L1399.6,765.2L1401.3,785.2L1403.8,777.7L1406.3,760.2L1408.8,750.1L1411.3,745.1L1413.8,730.1L1416.3,710.1L1418.8,697.6L1420.6,710.1L1422.6,707.6L1425.1,710.1L1427.1,725.1L1429.6,735.1L1431.3,740.1L1433.1,755.1L1435.1,747.6L1437.6,735.1L1440.6,726.4L1442.6,740.1L1445.1,745.1L1447.6,742.6L1450.1,747.6L1452.6,750.1L1455.1,742.6L1457.1,760.2L1458.9,785.2L1460.4,810.2L1462.1,843.8L1463.9,820.0L1465.6,815.2L1468.9,812.7L1472.6,810.2L1476.4,812.7L1478.9,810.2L1480.6,790.2L1482.6,777.7L1484.6,787.7L1487.1,775.2L1489.6,777.7L1492.1,787.7L1493.1,797.5L1494.1,822.5L1495.1,860.1L1496.4,890.1L1498.1,900.1L1499.6,923.9L1501.4,900.1L1503.2,885.1L1505.2,877.6L1507.2,870.1L1509.2,880.1L1511.4,895.1L1513.2,902.6L1515.2,900.1L1517.2,870.1L1518.9,847.6L1520.7,841.3L1522.7,855.1L1524.7,870.1L1526.4,875.1L1528.2,845.1L1530.2,820.0L1532.2,797.5L1533.9,810.0L1536.4,831.3L1538.2,810.2L1540.2,780.2L1542.7,777.7L1545.2,775.2L1547.7,767.7L1550.2,760.2L1552.7,752.6L1555.2,745.1L1557.7,752.6L1560.2,767.7L1562.2,795.2L1563.9,790.2L1566.4,787.7L1569.0,800.2L1571.5,807.7L1574.0,802.7L1576.5,800.2L1579.0,812.7L1581.5,785.2L1583.5,755.1L1585.2,746.4L1587.2,760.2L1589.0,777.7L1591.5,785.2L1594.0,795.2L1596.5,785.2L1599.0,777.7L1601.5,770.2L1604.0,767.7L1606.5,755.1L1608.2,750.1L1610.7,757.6L1613.2,765.2L1615.7,757.6L1618.2,752.6L1621.5,751.4L1624.0,752.6L1626.5,745.1L1629.0,730.1L1631.5,717.6L1634.0,715.1L1636.5,710.1L1639.0,700.1L1640.8,715.1L1642.8,750.1L1644.8,777.7L1647.3,782.7L1649.8,772.7L1652.3,767.7L1654.8,780.2L1657.3,767.7L1659.8,762.7L1662.3,750.1L1665.3,745.1L1669.0,743.9L1672.8,740.1L1675.3,737.6L1677.8,725.1L1679.8,740.1L1681.5,747.6L1684.0,742.6L1687.8,738.9L1691.5,740.1L1695.3,741.4L1699.0,732.6L1702.3,725.1L1704.8,710.1L1706.6,680.1L1708.3,647.6L1710.3,642.6L1712.3,645.1L1714.1,627.6L1715.8,613.8L1718.3,616.3L1720.8,618.8L1723.3,615.0L1725.8,613.8L1728.3,620.0L1730.8,627.6L1733.3,632.6L1735.8,652.6L1738.3,656.3L1740.3,632.6L1742.3,608.8L1744.8,607.5L1747.3,610.0L1749.8,630.1L1752.3,635.1L1754.8,637.6L1757.3,650.1L1759.8,656.3L1762.3,660.1L1764.3,696.4L1765.8,635.1L1767.4,613.8L1769.4,602.5L1771.4,582.5L1773.4,577.5L1775.9,585.0L1778.4,592.5L1780.9,600.0L1783.4,595.0L1785.9,602.5L1788.4,606.3L1790.9,607.5L1793.4,590.0L1795.9,583.8L1798.4,586.3L1800.9,600.0L1803.4,617.5L1805.9,645.1L1808.4,642.6L1810.4,625.0L1812.9,623.8L1815.4,635.1L1817.9,645.1L1820.4,640.1L1822.9,657.6L1825.4,682.6L1828.4,675.1L1831.6,680.1L1834.9,685.1L1837.9,695.1L1840.4,685.1L1842.9,677.6L1845.4,690.1L1847.9,695.1L1850.4,702.6L1852.9,710.1L1855.9,717.6L1859.2,725.1L1861.7,710.1L1864.2,690.1L1865.9,667.6L1867.9,655.1L1870.4,653.8L1872.9,658.8L1875.4,660.1L1878.4,658.8L1881.7,667.6L1884.9,670.1L1887.9,665.1L1890.9,672.6L1894.2,677.6L1897.4,682.6L1900.5,687.6L1904.2,690.1L1908.0,691.3L1911.7,695.1L1915.0,690.1L1918.0,695.1L1921.0,696.4L1923.0,720.1L1925.0,745.1L1928.0,743.9L1931.7,742.6L1934.2,722.6L1936.7,727.6L1940.0,745.1L1943.8,740.2L1947.5,743.9L1950.0,735.1L1952.5,727.6L1955.5,722.6L1958.0,720.1L1961.3,730.1L1963.8,725.1L1967.1,715.1L1970.1,705.1L1972.6,706.4L1975.1,710.1L1978.1,720.1L1980.6,718.9L1983.1,705.1L1985.1,690.1L1987.1,680.1L1988.8,652.6L1990.6,632.6L1993.8,633.8L1997.6,636.3L2001.3,635.1L2005.1,632.6L2008.1,622.6L2011.3,627.6L2014.6,633.8L2017.6,632.6L2020.6,636.3L2023.8,633.8L2027.1,635.1L2029.6,627.6L2032.1,602.5L2034.6,590.0L2037.1,596.3L2038.9,612.6L2041.4,617.6L2043.9,612.6L2046.4,625.1L2048.9,615.1L2051.4,613.8L2053.9,622.6L2056.4,632.6L2058.9,640.1L2061.4,635.1L2063.9,620.1L2066.4,630.1L2068.1,617.6L2070.1,622.6L2072.1,640.1L2074.6,655.1L2077.1,670.1L2079.6,682.6L2082.1,695.1L2084.6,680.1L2086.4,670.1L2088.9,672.6L2091.4,667.6L2093.9,672.6L2096.4,665.1L2098.9,642.6L2101.4,625.1L2103.9,612.6L2106.4,610.1L2108.9,615.1L2111.4,625.1L2113.9,627.6L2115.7,602.5L2117.7,577.5L2120.2,575.0L2122.2,565.0L2124.7,577.5L2127.2,572.5L2129.7,567.5L2132.2,580.0L2133.9,605.0L2136.4,620.1L2138.2,638.8L2140.2,632.6L2142.2,640.1L2143.9,615.1L2146.4,613.8L2148.9,617.6L2151.4,645.1L2153.2,640.1L2155.7,625.1L2157.7,622.6L2160.2,635.1L2162.2,652.6L2163.9,667.6L2166.4,677.6L2169.0,665.1L2171.5,660.1L2174.0,672.6L2176.5,682.6L2179.0,695.1L2180.7,715.1L2182.7,690.1L2185.2,676.4L2187.7,690.1L2190.2,700.1L2192.7,690.1L2195.2,672.6L2197.7,660.1L2200.2,647.6L2202.7,660.1L2205.2,657.6L2207.7,665.1L2210.2,670.1L2212.7,662.6L2215.2,655.1L2217.7,662.6L2220.2,670.1L2222.7,680.1L2225.2,687.6L2227.7,695.1L2230.2,705.1L2232.7,715.1L2235.3,725.1L2237.8,727.6L2240.3,717.6L2242.3,732.6L2244.0,752.7L2245.8,763.9L2247.8,757.7L2250.3,755.2L2252.8,745.2L2255.3,722.6L2257.8,705.1L2260.3,695.1L2262.8,690.1L2264.8,700.1L2266.5,690.1L2269.0,687.6L2270.8,702.6L2272.8,720.1L2274.0,757.7L2275.8,790.2L2277.3,765.2L2279.0,742.7L2281.5,737.6L2284.0,740.2L2286.5,742.7L2289.0,737.6L2291.5,735.1L2293.3,720.1L2295.3,705.1L2297.3,715.1L2299.0,730.1L2301.6,735.1L2304.1,737.6L2306.6,747.7L2309.1,763.9L2311.6,752.7L2313.3,737.6L2315.3,725.1L2317.3,720.1L2319.1,717.6L2320.8,700.1L2322.8,698.9L2324.8,698.1" fill="none" stroke="#f1507a" stroke-width="3.4" stroke-linejoin="round"/>
<path d="M117.0,522.6L119.5,517.6L121.3,532.6L123.8,538.9L127.5,536.4L131.3,537.6L135.0,532.6L137.5,530.1L141.3,532.6L145.0,535.1L147.5,536.0L150.0,533.9L153.8,535.1L157.5,538.9L160.0,528.8L162.5,535.1L165.0,536.0L167.6,534.3L170.1,535.1L172.6,538.0L175.1,537.1L177.6,535.2L180.1,536.4L182.6,535.4L185.1,535.1L188.8,537.1L190.6,540.1L191.3,555.1L194.6,556.4L195.6,572.6L197.6,585.1L200.1,590.1L202.1,607.7L203.8,595.1L206.3,590.1L208.8,600.2L211.3,610.2L213.8,617.7L216.3,620.2L218.8,625.2L221.3,628.9L223.8,617.7L226.3,600.2L228.8,592.6L231.3,600.2L233.9,607.7L236.4,602.7L240.1,605.2L243.9,598.9L246.4,597.6L248.1,607.7L250.1,612.7L253.9,611.4L257.6,612.7L261.4,613.9L265.1,617.7L268.9,618.9L272.6,617.7L275.1,621.4L277.6,615.2L280.1,613.9L283.9,612.7L286.4,600.2L288.9,598.9L291.4,595.1L293.9,602.7L297.6,603.9L301.4,611.4L303.9,603.9L307.7,602.7L311.4,600.2L315.2,597.6L318.9,598.9L322.7,600.2L326.4,595.1L328.2,593.9L329.7,567.6L332.7,565.1L335.2,562.6L337.7,570.1L341.4,565.1L345.2,562.6L348.9,557.6L351.4,562.6L355.2,561.4L358.9,552.6L362.7,547.6L365.2,542.6L367.7,530.1L369.7,515.1L372.2,502.6L374.0,510.1L376.5,511.3L379.0,507.6L381.5,500.1L384.0,495.1L386.5,493.8L389.0,498.8L391.5,507.6L394.0,510.1L397.7,507.6L400.2,500.1L402.7,492.6L405.2,487.6L407.7,482.6L410.2,467.6L412.7,460.0L414.5,433.8L415.7,462.5L417.7,450.0L419.7,472.6L421.5,457.5L424.0,455.0L426.5,442.5L429.0,457.5L431.5,465.0L434.0,485.1L436.5,470.1L439.0,477.6L441.5,472.6L444.0,482.6L446.5,480.1L449.0,470.1L451.5,460.0L454.0,452.5L456.5,455.0L460.3,462.5L462.8,475.1L465.3,472.6L467.8,467.6L470.3,475.1L472.8,473.8L475.3,472.6L477.8,475.1L480.3,480.1L482.8,467.6L485.3,468.8L487.8,472.6L491.5,473.8L495.3,472.6L499.0,475.1L501.6,477.6L504.1,492.6L506.6,505.1L509.1,501.3L512.8,502.6L516.6,497.6L520.3,500.1L524.1,502.6L527.8,505.1L531.6,501.3L534.1,515.1L535.8,480.1L539.1,487.6L542.8,485.1L546.6,487.6L550.3,492.6L554.1,495.1L557.8,496.3L561.6,507.6L564.1,520.1L565.3,530.1L567.9,515.1L570.4,517.6L574.1,516.3L577.9,515.1L581.6,517.6L585.4,520.1L587.9,530.1L590.4,520.1L594.1,515.1L597.9,517.6L601.6,518.8L604.1,523.8L606.6,512.6L609.1,502.6L611.6,500.1L614.1,505.1L617.9,495.1L621.6,492.6L625.4,500.1L629.1,487.6L632.9,485.1L636.7,486.3L640.4,477.6L644.2,473.8L647.9,475.1L651.7,477.6L655.4,480.1L659.2,492.6L662.9,496.3L666.7,490.1L669.2,491.3L670.9,508.8L672.9,550.1L674.7,580.1L676.2,555.1L677.9,575.1L679.9,550.1L682.9,540.1L685.4,547.6L687.9,535.1L690.4,537.6L694.2,530.1L697.9,525.1L701.7,520.1L705.5,525.1L709.2,527.6L713.0,520.1L716.7,515.1L720.0,495.2L722.5,493.7L725.0,490.2L727.5,485.7L730.0,484.0L733.8,487.7L737.5,482.7L741.3,485.2L745.0,492.7L748.8,489.0L752.5,482.7L756.3,480.2L760.0,481.5L763.8,484.0L767.6,485.2L770.1,484.9L772.6,484.7L775.1,483.8L777.6,486.5L780.1,487.8L782.6,487.7L785.1,488.2L787.6,486.5L790.1,487.1L792.6,487.2L795.1,489.2L797.6,488.2L800.1,487.2L802.6,487.7L806.3,484.0L808.8,472.7L811.3,462.7L815.1,457.7L818.8,453.9L822.6,456.4L826.3,453.9L830.1,450.2L833.9,453.9L837.6,456.4L841.4,457.7L845.1,453.9L847.6,470.2L850.1,475.2L853.9,473.9L857.6,470.2L861.4,466.4L865.1,470.2L868.9,472.7L872.6,467.7L876.4,468.9L880.1,467.7L883.9,460.2L887.6,457.7L891.4,458.9L893.9,450.2L896.4,440.2L900.2,435.2L903.9,432.7L907.7,427.7L910.2,422.7L912.7,417.7L915.2,418.9L917.7,413.9L920.2,405.1L922.7,401.4L925.2,396.4L928.9,392.6L931.4,407.6L933.9,395.1L936.4,388.9L940.2,390.1L943.9,395.1L946.4,400.1L948.9,390.1L950.9,372.6L952.7,362.6L955.2,360.1L957.7,365.1L960.2,350.1L962.7,342.6L965.2,335.1L967.7,327.6L970.2,315.1L972.7,297.6L975.2,287.6L977.2,307.6L979.0,320.1L980.7,295.1L982.7,302.6L985.2,310.1L987.7,305.1L990.2,325.1L992.7,330.1L995.2,310.1L997.7,305.1L1000.2,300.1L1002.7,292.6L1005.2,277.6L1007.2,270.0L1010.2,266.3L1012.7,260.0L1015.2,252.5L1017.2,242.5L1019.0,257.5L1021.5,267.5L1024.0,277.6L1026.5,260.0L1029.0,270.0L1031.5,262.5L1034.0,252.5L1036.5,240.0L1039.0,235.0L1041.5,245.0L1044.0,240.0L1046.5,250.0L1049.0,257.5L1051.5,247.5L1054.0,240.0L1056.5,237.5L1060.3,242.5L1062.8,245.0L1065.3,237.5L1067.8,232.5L1070.3,227.5L1072.8,237.5L1075.3,250.0L1077.8,245.0L1080.3,265.0L1082.8,255.0L1085.3,242.5L1087.8,252.5L1090.3,245.0L1094.0,240.0L1096.5,247.5L1099.0,260.0L1101.6,270.0L1104.1,285.1L1105.8,312.6L1107.8,292.6L1110.3,297.6L1112.8,307.6L1115.3,295.1L1117.8,300.1L1120.3,297.6L1122.8,310.1L1125.3,320.1L1127.8,302.6L1130.3,292.6L1132.8,290.1L1135.3,310.1L1137.8,320.1L1139.1,332.6L1141.6,315.1L1144.1,310.1L1146.6,315.1L1149.1,307.6L1152.8,312.6L1156.6,315.1L1160.3,320.1L1164.1,322.6L1167.9,330.1L1170.4,310.1L1172.9,295.1L1175.4,290.1L1177.9,285.1L1180.4,297.6L1182.9,287.6L1185.4,277.6L1187.9,272.5L1190.4,270.0L1192.9,275.0L1195.4,267.5L1197.9,263.8L1200.4,266.3L1204.1,262.5L1207.9,263.8L1211.6,258.8L1214.9,256.3L1216.6,267.5L1219.1,275.0L1221.6,272.5L1224.1,267.5L1226.6,272.5L1229.1,282.6L1231.6,285.1L1234.2,287.6L1236.7,282.6L1239.2,270.0L1241.7,262.5L1244.2,252.5L1246.7,247.5L1249.2,248.8L1252.9,237.5L1256.7,230.0L1259.2,226.3L1261.7,235.0L1265.4,237.5L1269.2,233.8L1272.9,235.0L1275.4,231.3L1278.7,220.0L1281.7,227.5L1284.2,232.5L1286.7,240.0L1290.4,242.5L1294.2,247.5L1297.9,245.0L1300.5,242.5L1303.0,257.5L1305.5,265.0L1309.2,262.5L1313.0,267.5L1316.7,270.0L1320.5,265.0L1324.2,258.8L1328.0,263.8L1330.5,270.0L1334.2,271.3L1336.7,285.1L1340.0,287.6L1341.3,283.8L1345.0,282.6L1348.8,285.1L1351.3,297.6L1353.0,315.1L1355.5,303.8L1358.8,302.6L1362.5,296.3L1365.0,300.1L1367.6,282.6L1370.1,276.3L1373.8,285.1L1376.3,278.8L1378.8,290.1L1381.3,297.6L1383.8,307.6L1386.3,297.6L1388.8,287.6L1390.8,276.3L1393.1,290.1L1395.6,298.8L1398.1,290.1L1400.6,297.6L1403.8,291.3L1407.6,286.3L1411.3,280.1L1413.8,272.6L1416.3,267.6L1418.8,271.3L1421.3,275.1L1423.8,271.3L1426.3,281.3L1430.1,285.1L1433.9,290.1L1437.6,286.3L1441.4,288.8L1445.1,295.1L1448.9,292.6L1452.6,297.6L1455.6,305.1L1458.1,317.6L1460.1,330.1L1461.4,341.4L1463.9,328.9L1467.6,332.6L1471.4,333.9L1475.1,330.1L1478.9,332.6L1481.4,323.9L1483.9,328.9L1486.4,326.4L1488.9,330.1L1491.4,335.1L1493.1,350.1L1494.6,370.1L1496.4,380.1L1498.4,400.2L1500.2,380.1L1502.2,373.9L1504.7,376.4L1507.2,385.1L1510.2,390.2L1512.7,387.6L1515.2,380.1L1518.2,371.4L1520.7,380.1L1523.2,386.4L1526.4,377.6L1528.9,368.9L1531.4,362.6L1533.9,367.6L1536.4,372.6L1538.9,357.6L1541.4,360.1L1543.9,365.1L1546.4,362.6L1550.2,357.6L1553.9,355.1L1556.4,356.4L1558.9,365.1L1561.4,375.1L1565.2,373.9L1567.7,382.6L1571.5,383.9L1575.2,386.4L1579.0,390.2L1581.5,380.1L1584.7,368.9L1587.2,382.6L1590.2,387.6L1592.7,392.7L1596.5,388.9L1600.2,387.6L1604.0,385.1L1607.7,382.6L1611.5,387.6L1614.7,390.2L1617.7,387.6L1621.5,390.2L1625.2,387.6L1629.0,380.1L1632.7,381.4L1636.5,376.4L1639.0,375.1L1640.8,387.6L1642.8,412.7L1645.3,407.7L1649.0,408.9L1651.5,407.7L1654.0,416.4L1656.5,410.2L1660.3,410.2L1664.0,406.4L1667.8,403.9L1671.5,402.7L1675.3,397.7L1679.0,405.2L1682.8,407.7L1686.5,407.7L1690.3,408.9L1694.0,408.9L1697.8,407.7L1701.6,405.2L1704.1,400.2L1705.8,387.6L1707.8,377.6L1711.6,375.1L1714.1,365.1L1717.8,362.6L1721.6,361.4L1725.3,362.6L1729.1,365.1L1732.8,365.1L1736.6,371.4L1739.1,360.1L1741.6,356.4L1744.8,355.1L1747.8,360.1L1750.3,362.6L1753.3,361.4L1756.6,367.6L1759.8,370.1L1762.8,383.9L1764.8,365.1L1766.6,352.6L1769.1,343.9L1772.9,340.1L1776.6,340.1L1780.4,336.4L1784.1,338.9L1787.9,337.6L1791.6,330.1L1795.4,326.4L1799.1,327.6L1802.9,335.1L1806.6,341.4L1810.4,332.6L1814.1,337.6L1817.9,332.6L1821.6,338.9L1825.4,342.6L1829.1,343.9L1832.9,345.1L1836.7,343.9L1840.4,340.1L1844.2,342.6L1847.9,347.6L1851.7,348.9L1855.4,350.1L1859.2,353.9L1862.4,345.1L1864.9,331.4L1867.4,326.4L1871.7,327.6L1875.4,325.1L1880.0,328.1L1883.8,327.1L1887.5,323.9L1891.3,330.1L1895.0,331.4L1898.8,333.9L1902.5,332.6L1906.3,333.9L1910.0,332.6L1913.8,331.4L1917.5,330.1L1920.8,333.9L1922.5,348.9L1926.3,350.1L1930.0,348.9L1933.3,340.1L1936.3,348.9L1940.0,350.1L1943.8,348.9L1947.1,353.9L1950.1,346.4L1953.8,342.6L1957.6,345.1L1961.3,347.6L1965.1,342.6L1968.8,340.1L1972.6,341.4L1976.3,343.9L1980.1,345.1L1982.6,337.6L1985.1,330.1L1988.1,326.4L1990.1,315.1L1992.6,312.6L1996.3,313.9L2000.1,308.9L2003.8,302.6L2007.6,300.1L2011.3,305.1L2015.1,303.9L2018.9,301.3L2022.6,300.1L2026.4,298.8L2028.9,292.6L2031.4,282.6L2033.9,278.8L2036.4,281.3L2038.9,287.6L2042.6,283.8L2046.4,280.1L2050.1,283.8L2053.9,282.6L2057.6,285.1L2061.4,277.6L2065.1,280.1L2067.6,267.6L2070.1,280.1L2073.9,283.8L2077.6,287.6L2080.2,293.8L2083.9,288.8L2087.7,286.3L2091.4,283.8L2095.2,281.3L2097.7,270.1L2100.2,262.6L2102.7,255.1L2106.4,257.6L2110.2,256.3L2113.9,252.6L2116.4,235.0L2118.9,230.0L2121.4,223.8L2123.9,218.8L2126.4,217.5L2128.9,211.3L2131.4,220.0L2133.9,223.8L2136.4,232.5L2138.9,228.8L2141.4,218.8L2145.2,216.3L2149.0,223.8L2152.7,220.0L2156.5,215.0L2160.2,221.3L2164.0,231.3L2167.7,226.3L2171.5,223.8L2175.2,228.8L2179.0,242.6L2182.7,231.3L2186.5,233.8L2190.2,235.0L2194.0,226.3L2197.7,216.3L2201.5,218.8L2205.2,220.0L2209.0,218.8L2212.7,216.3L2216.5,215.0L2220.3,221.3L2224.0,223.8L2227.8,227.5L2231.5,231.3L2235.3,236.3L2239.0,233.8L2242.3,240.1L2244.8,250.1L2247.8,243.8L2251.5,238.8L2254.0,231.3L2257.8,223.8L2261.5,221.3L2265.3,223.8L2267.8,218.8L2270.3,226.3L2272.8,236.3L2274.8,261.3L2276.5,245.1L2279.0,236.3L2282.8,240.1L2286.6,242.6L2290.3,237.6L2294.1,230.0L2297.8,236.3L2301.6,241.3L2305.3,246.3L2307.8,252.6L2310.8,246.3L2314.1,241.3L2317.8,236.3L2320.3,231.3L2322.8,230.0" fill="none" stroke="#e9e7e2" stroke-width="2.5" stroke-linejoin="round"/>
<path d="M121.3,532.6L123.8,538.9" fill="none" stroke="#8fe6c0" stroke-width="5" stroke-linejoin="round" stroke-linecap="round" opacity="0.9"/>
<path d="M277.6,615.2L280.1,613.9L283.9,612.7L286.4,600.2L288.9,598.9L291.4,595.1L293.9,602.7L297.6,603.9L301.4,611.4L303.9,603.9" fill="none" stroke="#8fe6c0" stroke-width="5" stroke-linejoin="round" stroke-linecap="round" opacity="0.9"/>
<path d="M606.6,512.6L609.1,502.6L611.6,500.1L614.1,505.1L617.9,495.1L621.6,492.6L625.4,500.1L629.1,487.6L632.9,485.1L636.7,486.3" fill="none" stroke="#8fe6c0" stroke-width="5" stroke-linejoin="round" stroke-linecap="round" opacity="0.9"/>
<path d="M701.7,520.1L705.5,525.1L709.2,527.6L713.0,520.1L716.7,515.1L720.0,495.2L722.5,493.7L725.0,490.2L727.5,485.7L730.0,484.0L733.8,487.7L737.5,482.7L741.3,485.2L745.0,492.7" fill="none" stroke="#8fe6c0" stroke-width="5" stroke-linejoin="round" stroke-linecap="round" opacity="0.9"/>
<path d="M826.3,453.9L830.1,450.2" fill="none" stroke="#8fe6c0" stroke-width="5" stroke-linejoin="round" stroke-linecap="round" opacity="0.9"/>
<path d="M896.4,440.2L900.2,435.2L903.9,432.7L907.7,427.7L910.2,422.7L912.7,417.7L915.2,418.9L917.7,413.9L920.2,405.1L922.7,401.4" fill="none" stroke="#8fe6c0" stroke-width="5" stroke-linejoin="round" stroke-linecap="round" opacity="0.9"/>
<path d="M1015.2,252.5L1017.2,242.5L1019.0,257.5L1021.5,267.5L1024.0,277.6L1026.5,260.0L1029.0,270.0" fill="none" stroke="#8fe6c0" stroke-width="5" stroke-linejoin="round" stroke-linecap="round" opacity="0.9"/>
<path d="M1051.5,247.5L1054.0,240.0L1056.5,237.5" fill="none" stroke="#8fe6c0" stroke-width="5" stroke-linejoin="round" stroke-linecap="round" opacity="0.9"/>
<path d="M1185.4,277.6L1187.9,272.5L1190.4,270.0L1192.9,275.0L1195.4,267.5L1197.9,263.8L1200.4,266.3L1204.1,262.5L1207.9,263.8L1211.6,258.8L1214.9,256.3" fill="none" stroke="#8fe6c0" stroke-width="5" stroke-linejoin="round" stroke-linecap="round" opacity="0.9"/>
<path d="M1411.3,280.1L1413.8,272.6L1416.3,267.6L1418.8,271.3L1421.3,275.1L1423.8,271.3" fill="none" stroke="#8fe6c0" stroke-width="5" stroke-linejoin="round" stroke-linecap="round" opacity="0.9"/>
<path d="M1536.4,372.6L1538.9,357.6L1541.4,360.1L1543.9,365.1L1546.4,362.6L1550.2,357.6L1553.9,355.1L1556.4,356.4L1558.9,365.1" fill="none" stroke="#8fe6c0" stroke-width="5" stroke-linejoin="round" stroke-linecap="round" opacity="0.9"/>
<path d="M1671.5,402.7L1675.3,397.7L1679.0,405.2L1682.8,407.7L1686.5,407.7L1690.3,408.9L1694.0,408.9" fill="none" stroke="#8fe6c0" stroke-width="5" stroke-linejoin="round" stroke-linecap="round" opacity="0.9"/>
<path d="M1721.6,361.4L1725.3,362.6L1729.1,365.1L1732.8,365.1" fill="none" stroke="#8fe6c0" stroke-width="5" stroke-linejoin="round" stroke-linecap="round" opacity="0.9"/>
<path d="M1791.6,330.1L1795.4,326.4" fill="none" stroke="#8fe6c0" stroke-width="5" stroke-linejoin="round" stroke-linecap="round" opacity="0.9"/>
<path d="M1980.1,345.1L1982.6,337.6L1985.1,330.1L1988.1,326.4L1990.1,315.1L1992.6,312.6L1996.3,313.9L2000.1,308.9L2003.8,302.6L2007.6,300.1L2011.3,305.1" fill="none" stroke="#8fe6c0" stroke-width="5" stroke-linejoin="round" stroke-linecap="round" opacity="0.9"/>
<path d="M2097.7,270.1L2100.2,262.6L2102.7,255.1L2106.4,257.6L2110.2,256.3L2113.9,252.6L2116.4,235.0L2118.9,230.0L2121.4,223.8L2123.9,218.8L2126.4,217.5L2128.9,211.3" fill="none" stroke="#8fe6c0" stroke-width="5" stroke-linejoin="round" stroke-linecap="round" opacity="0.9"/>
<path d="M2320.3,231.3L2322.8,230.0" fill="none" stroke="#8fe6c0" stroke-width="5" stroke-linejoin="round" stroke-linecap="round" opacity="0.9"/>
<path d="M190.6,540.1L191.3,555.1L194.6,556.4L195.6,572.6L197.6,585.1L200.1,590.1L202.1,607.7L203.8,595.1L206.3,590.1L208.8,600.2L211.3,610.2L213.8,617.7L216.3,620.2L218.8,625.2L221.3,628.9" fill="none" stroke="#f79ab3" stroke-width="5" stroke-linejoin="round" stroke-linecap="round" opacity="0.9"/>
<path d="M369.7,515.1L372.2,502.6L374.0,510.1" fill="none" stroke="#f79ab3" stroke-width="5" stroke-linejoin="round" stroke-linecap="round" opacity="0.9"/>
<path d="M434.0,485.1L436.5,470.1L439.0,477.6L441.5,472.6L444.0,482.6L446.5,480.1L449.0,470.1L451.5,460.0L454.0,452.5L456.5,455.0" fill="none" stroke="#f79ab3" stroke-width="5" stroke-linejoin="round" stroke-linecap="round" opacity="0.9"/>
<path d="M482.8,467.6L485.3,468.8" fill="none" stroke="#f79ab3" stroke-width="5" stroke-linejoin="round" stroke-linecap="round" opacity="0.9"/>
<path d="M670.9,508.8L672.9,550.1L674.7,580.1L676.2,555.1L677.9,575.1L679.9,550.1L682.9,540.1L685.4,547.6L687.9,535.1L690.4,537.6L694.2,530.1L697.9,525.1" fill="none" stroke="#f79ab3" stroke-width="5" stroke-linejoin="round" stroke-linecap="round" opacity="0.9"/>
<path d="M847.6,470.2L850.1,475.2L853.9,473.9L857.6,470.2L861.4,466.4L865.1,470.2L868.9,472.7L872.6,467.7" fill="none" stroke="#f79ab3" stroke-width="5" stroke-linejoin="round" stroke-linecap="round" opacity="0.9"/>
<path d="M987.7,305.1L990.2,325.1L992.7,330.1L995.2,310.1" fill="none" stroke="#f79ab3" stroke-width="5" stroke-linejoin="round" stroke-linecap="round" opacity="0.9"/>
<path d="M1046.5,250.0L1049.0,257.5" fill="none" stroke="#f79ab3" stroke-width="5" stroke-linejoin="round" stroke-linecap="round" opacity="0.9"/>
<path d="M1060.3,242.5L1062.8,245.0L1065.3,237.5L1067.8,232.5L1070.3,227.5L1072.8,237.5" fill="none" stroke="#f79ab3" stroke-width="5" stroke-linejoin="round" stroke-linecap="round" opacity="0.9"/>
<path d="M1085.3,242.5L1087.8,252.5" fill="none" stroke="#f79ab3" stroke-width="5" stroke-linejoin="round" stroke-linecap="round" opacity="0.9"/>
<path d="M1099.0,260.0L1101.6,270.0" fill="none" stroke="#f79ab3" stroke-width="5" stroke-linejoin="round" stroke-linecap="round" opacity="0.9"/>
<path d="M1294.2,247.5L1297.9,245.0L1300.5,242.5L1303.0,257.5L1305.5,265.0L1309.2,262.5L1313.0,267.5L1316.7,270.0L1320.5,265.0L1324.2,258.8" fill="none" stroke="#f79ab3" stroke-width="5" stroke-linejoin="round" stroke-linecap="round" opacity="0.9"/>
<path d="M1303.0,257.5L1305.5,265.0L1309.2,262.5L1313.0,267.5L1316.7,270.0" fill="none" stroke="#f79ab3" stroke-width="5" stroke-linejoin="round" stroke-linecap="round" opacity="0.9"/>
<path d="M1458.1,317.6L1460.1,330.1L1461.4,341.4L1463.9,328.9L1467.6,332.6L1471.4,333.9L1475.1,330.1L1478.9,332.6L1481.4,323.9L1483.9,328.9L1486.4,326.4" fill="none" stroke="#f79ab3" stroke-width="5" stroke-linejoin="round" stroke-linecap="round" opacity="0.9"/>
<path d="M1507.2,385.1L1510.2,390.2L1512.7,387.6L1515.2,380.1" fill="none" stroke="#f79ab3" stroke-width="5" stroke-linejoin="round" stroke-linecap="round" opacity="0.9"/>
<path d="M1565.2,373.9L1567.7,382.6L1571.5,383.9L1575.2,386.4L1579.0,390.2" fill="none" stroke="#f79ab3" stroke-width="5" stroke-linejoin="round" stroke-linecap="round" opacity="0.9"/>
<path d="M1821.6,338.9L1825.4,342.6L1829.1,343.9L1832.9,345.1L1836.7,343.9L1840.4,340.1L1844.2,342.6L1847.9,347.6L1851.7,348.9" fill="none" stroke="#f79ab3" stroke-width="5" stroke-linejoin="round" stroke-linecap="round" opacity="0.9"/>
<path d="M2077.6,287.6L2080.2,293.8L2083.9,288.8L2087.7,286.3L2091.4,283.8L2095.2,281.3" fill="none" stroke="#f79ab3" stroke-width="5" stroke-linejoin="round" stroke-linecap="round" opacity="0.9"/>
<path d="M2136.4,232.5L2138.9,228.8" fill="none" stroke="#f79ab3" stroke-width="5" stroke-linejoin="round" stroke-linecap="round" opacity="0.9"/>
<path d="M2149.0,223.8L2152.7,220.0L2156.5,215.0" fill="none" stroke="#f79ab3" stroke-width="5" stroke-linejoin="round" stroke-linecap="round" opacity="0.9"/>
<path d="M2175.2,228.8L2179.0,242.6L2182.7,231.3L2186.5,233.8L2190.2,235.0" fill="none" stroke="#f79ab3" stroke-width="5" stroke-linejoin="round" stroke-linecap="round" opacity="0.9"/>
<circle cx="287.2" cy="595" r="39.5" fill="#ffffff" fill-opacity="0.31"/>
<circle cx="604.1" cy="516.3" r="39.5" fill="#ffffff" fill-opacity="0.31"/>
<circle cx="710.5" cy="516.3" r="39.5" fill="#ffffff" fill-opacity="0.31"/>
<circle cx="896.4" cy="438.9" r="39.5" fill="#ffffff" fill-opacity="0.31"/>
<circle cx="1191.6" cy="272" r="39.5" fill="#ffffff" fill-opacity="0.31"/>
<circle cx="1560.2" cy="377.6" r="39.5" fill="#ffffff" fill-opacity="0.31"/>
<circle cx="1983.8" cy="313.1" r="39.5" fill="#ffffff" fill-opacity="0.31"/>
<circle cx="2097.2" cy="266.3" r="39.5" fill="#ffffff" fill-opacity="0.31"/>
<circle cx="2330.3" cy="232.5" r="39.5" fill="#ffffff" fill-opacity="0.31"/>
<circle cx="287" cy="776.4" r="39.5" fill="#ffffff" fill-opacity="0.31"/>
<circle cx="604" cy="725.6" r="39.5" fill="#ffffff" fill-opacity="0.31"/>
<circle cx="710.5" cy="725.6" r="39.5" fill="#ffffff" fill-opacity="0.31"/>
<circle cx="896.4" cy="648.2" r="39.5" fill="#ffffff" fill-opacity="0.31"/>
<circle cx="1191.6" cy="687.2" r="39.5" fill="#ffffff" fill-opacity="0.31"/>
<circle cx="1560.2" cy="791.4" r="39.5" fill="#ffffff" fill-opacity="0.31"/>
<circle cx="1983.8" cy="698.1" r="39.5" fill="#ffffff" fill-opacity="0.31"/>
<circle cx="2097.7" cy="659.6" r="39.5" fill="#ffffff" fill-opacity="0.31"/>
<circle cx="2329.8" cy="697.6" r="39.5" fill="#ffffff" fill-opacity="0.31"/>
<circle cx="1439.4" cy="312.6" r="39.5" fill="#d8456d" fill-opacity="0.42"/>
<circle cx="1439.4" cy="727.1" r="39.5" fill="#d8456d" fill-opacity="0.42"/>
<g fill="#e6e4dc">
<text x="202" y="228" font-size="50.5" font-weight="bold" textLength="629" lengthAdjust="spacingAndGlyphs">STH MVRV Breaks Above</text>
<text x="393" y="290.5" font-size="50.5" font-weight="bold" textLength="246.5" lengthAdjust="spacingAndGlyphs">155-d Avg</text>
<text x="142" y="353.5" font-size="50.5" textLength="748.5" lengthAdjust="spacingAndGlyphs" stroke="#2b2e2f" stroke-width="1.1">(Investor Profitability Improves)</text>
<rect x="283.3" y="375" width="8" height="131" rx="3"/>
<polygon points="268.0,505 306.6,505 287.3,537"/>
<rect x="601" y="375" width="8" height="71" rx="3"/>
<polygon points="585.7,445 624.3,445 605,477"/>
<rect x="706.7" y="375" width="8" height="71" rx="3"/>
<polygon points="691.4000000000001,445 730.0,445 710.7,477"/>
<line x1="780.4" y1="377.8" x2="829" y2="407" stroke="#e6e4dc" stroke-width="8" stroke-linecap="round"/>
<polygon points="839,391.4 819.6,423.3 857.8,423.3"/>
</g>
<rect x="117.5" y="1140.8" width="2297.5" height="7" fill="#979795"/>
<rect x="1415" y="1140.8" width="916" height="7" fill="#2b2e2f"/>
<rect x="262" y="1143.5" width="28" height="4" fill="#e46a8c" opacity="0.8"/>
<rect x="313" y="1143.5" width="22" height="4" fill="#6aaee8" opacity="0.8"/>
<rect x="383" y="1143.5" width="12" height="4" fill="#e46a8c" opacity="0.8"/>
<rect x="620" y="1143.5" width="12" height="4" fill="#e46a8c" opacity="0.8"/>
<rect x="719" y="1143.5" width="5" height="4" fill="#e46a8c" opacity="0.8"/>
<rect x="1307" y="1143.5" width="23" height="4" fill="#e46a8c" opacity="0.8"/>
<line x1="1700" y1="1143.6" x2="2300" y2="1143.6" stroke="#d9d6d0" stroke-width="1.2"/>
<rect x="1724" y="1142.5" width="17" height="5" rx="2" fill="#4fd9a0"/>
<rect x="1783" y="1142.5" width="26" height="5" rx="2" fill="#f0517c"/>
<rect x="1839" y="1142.5" width="16" height="5" rx="2" fill="#4fd9a0"/>
<rect x="1886" y="1142.5" width="14" height="5" rx="2" fill="#f0517c"/>
<rect x="1930" y="1142.5" width="17" height="5" rx="2" fill="#4fd9a0"/>
<rect x="1949" y="1142.5" width="17" height="5" rx="2" fill="#f0517c"/>
<rect x="1975" y="1142.5" width="15" height="5" rx="2" fill="#4fd9a0"/>
<rect x="1990" y="1142.5" width="13" height="5" rx="2" fill="#f0517c"/>
<rect x="2034" y="1142.5" width="21" height="5" rx="2" fill="#4fd9a0"/>
<rect x="2069" y="1142.5" width="37" height="5" rx="2" fill="#f0517c"/>
<rect x="2158" y="1142.5" width="16" height="5" rx="2" fill="#4fd9a0"/>
<rect x="2195" y="1142.5" width="12" height="5" rx="2" fill="#f0517c"/>
<rect x="2209" y="1142.5" width="12" height="5" rx="2" fill="#4fd9a0"/>
<rect x="2223" y="1142.5" width="19" height="5" rx="2" fill="#f0517c"/>
<rect x="2289" y="1142.5" width="7" height="5" rx="2" fill="#4fd9a0"/>
</svg></body></html>
